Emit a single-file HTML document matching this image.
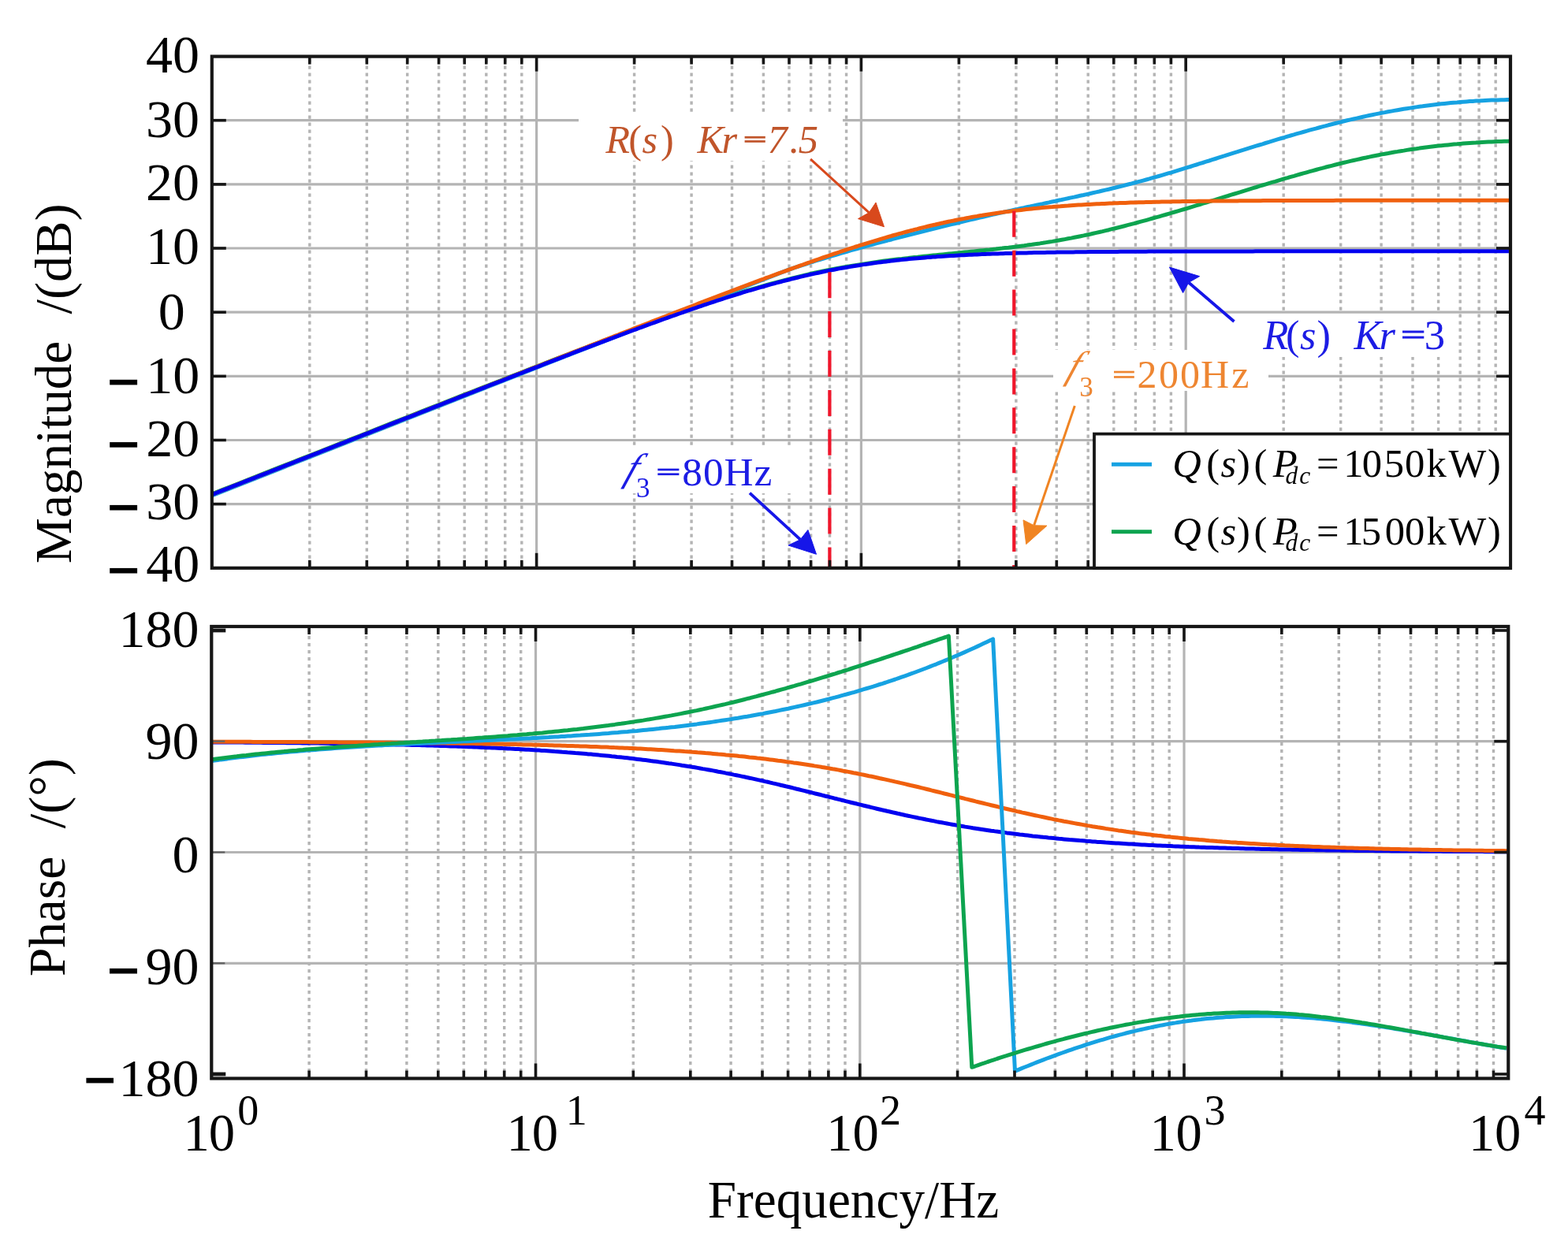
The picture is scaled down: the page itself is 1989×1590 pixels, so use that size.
<!DOCTYPE html><html><head><meta charset="utf-8"><title>Bode plot</title><style>html,body{margin:0;padding:0;background:#fff;overflow:hidden}svg{display:block}</style></head><body><svg width="1989" height="1590" viewBox="0 0 1989 1590">
<defs><filter id="bl" x="0" y="0" width="1" height="1"><feGaussianBlur stdDeviation="0.55"/></filter></defs>
<rect width="1989" height="1590" fill="#fff"/>
<g filter="url(#bl)">
<g stroke="#b4b4b4" stroke-width="3.4" stroke-dasharray="4.2 4.8"><line x1="392.8" y1="74.6" x2="392.8" y2="717.8"/><line x1="465.3" y1="74.6" x2="465.3" y2="717.8"/><line x1="516.7" y1="74.6" x2="516.7" y2="717.8"/><line x1="556.6" y1="74.6" x2="556.6" y2="717.8"/><line x1="589.2" y1="74.6" x2="589.2" y2="717.8"/><line x1="616.8" y1="74.6" x2="616.8" y2="717.8"/><line x1="640.7" y1="74.6" x2="640.7" y2="717.8"/><line x1="661.8" y1="74.6" x2="661.8" y2="717.8"/><line x1="804.6" y1="74.6" x2="804.6" y2="717.8"/><line x1="877.1" y1="74.6" x2="877.1" y2="717.8"/><line x1="928.5" y1="74.6" x2="928.5" y2="717.8"/><line x1="968.4" y1="74.6" x2="968.4" y2="717.8"/><line x1="1001.0" y1="74.6" x2="1001.0" y2="717.8"/><line x1="1028.6" y1="74.6" x2="1028.6" y2="717.8"/><line x1="1052.5" y1="74.6" x2="1052.5" y2="717.8"/><line x1="1073.6" y1="74.6" x2="1073.6" y2="717.8"/><line x1="1216.4" y1="74.6" x2="1216.4" y2="717.8"/><line x1="1288.9" y1="74.6" x2="1288.9" y2="717.8"/><line x1="1340.3" y1="74.6" x2="1340.3" y2="717.8"/><line x1="1380.2" y1="74.6" x2="1380.2" y2="717.8"/><line x1="1412.8" y1="74.6" x2="1412.8" y2="717.8"/><line x1="1440.4" y1="74.6" x2="1440.4" y2="717.8"/><line x1="1464.3" y1="74.6" x2="1464.3" y2="717.8"/><line x1="1485.4" y1="74.6" x2="1485.4" y2="717.8"/><line x1="1628.2" y1="74.6" x2="1628.2" y2="717.8"/><line x1="1700.7" y1="74.6" x2="1700.7" y2="717.8"/><line x1="1752.1" y1="74.6" x2="1752.1" y2="717.8"/><line x1="1792.0" y1="74.6" x2="1792.0" y2="717.8"/><line x1="1824.6" y1="74.6" x2="1824.6" y2="717.8"/><line x1="1852.2" y1="74.6" x2="1852.2" y2="717.8"/><line x1="1876.1" y1="74.6" x2="1876.1" y2="717.8"/><line x1="1897.2" y1="74.6" x2="1897.2" y2="717.8"/></g><g stroke="#b4b4b4" stroke-width="3.2"><line x1="680.6" y1="71.6" x2="680.6" y2="720.8"/><line x1="1092.4" y1="71.6" x2="1092.4" y2="720.8"/><line x1="1504.2" y1="71.6" x2="1504.2" y2="720.8"/><line x1="268.8" y1="152.7" x2="1916.0" y2="152.7"/><line x1="268.8" y1="233.9" x2="1916.0" y2="233.9"/><line x1="268.8" y1="315.0" x2="1916.0" y2="315.0"/><line x1="268.8" y1="396.2" x2="1916.0" y2="396.2"/><line x1="268.8" y1="477.4" x2="1916.0" y2="477.4"/><line x1="268.8" y1="558.5" x2="1916.0" y2="558.5"/><line x1="268.8" y1="639.6" x2="1916.0" y2="639.6"/></g>
<g stroke="#b4b4b4" stroke-width="3.4" stroke-dasharray="4.2 4.8"><line x1="392.1" y1="798.0" x2="392.1" y2="1365.5"/><line x1="464.5" y1="798.0" x2="464.5" y2="1365.5"/><line x1="515.9" y1="798.0" x2="515.9" y2="1365.5"/><line x1="555.8" y1="798.0" x2="555.8" y2="1365.5"/><line x1="588.3" y1="798.0" x2="588.3" y2="1365.5"/><line x1="615.8" y1="798.0" x2="615.8" y2="1365.5"/><line x1="639.7" y1="798.0" x2="639.7" y2="1365.5"/><line x1="660.7" y1="798.0" x2="660.7" y2="1365.5"/><line x1="803.3" y1="798.0" x2="803.3" y2="1365.5"/><line x1="875.8" y1="798.0" x2="875.8" y2="1365.5"/><line x1="927.1" y1="798.0" x2="927.1" y2="1365.5"/><line x1="967.0" y1="798.0" x2="967.0" y2="1365.5"/><line x1="999.6" y1="798.0" x2="999.6" y2="1365.5"/><line x1="1027.1" y1="798.0" x2="1027.1" y2="1365.5"/><line x1="1050.9" y1="798.0" x2="1050.9" y2="1365.5"/><line x1="1072.0" y1="798.0" x2="1072.0" y2="1365.5"/><line x1="1214.6" y1="798.0" x2="1214.6" y2="1365.5"/><line x1="1287.0" y1="798.0" x2="1287.0" y2="1365.5"/><line x1="1338.4" y1="798.0" x2="1338.4" y2="1365.5"/><line x1="1378.3" y1="798.0" x2="1378.3" y2="1365.5"/><line x1="1410.8" y1="798.0" x2="1410.8" y2="1365.5"/><line x1="1438.3" y1="798.0" x2="1438.3" y2="1365.5"/><line x1="1462.2" y1="798.0" x2="1462.2" y2="1365.5"/><line x1="1483.2" y1="798.0" x2="1483.2" y2="1365.5"/><line x1="1625.8" y1="798.0" x2="1625.8" y2="1365.5"/><line x1="1698.3" y1="798.0" x2="1698.3" y2="1365.5"/><line x1="1749.6" y1="798.0" x2="1749.6" y2="1365.5"/><line x1="1789.5" y1="798.0" x2="1789.5" y2="1365.5"/><line x1="1822.1" y1="798.0" x2="1822.1" y2="1365.5"/><line x1="1849.6" y1="798.0" x2="1849.6" y2="1365.5"/><line x1="1873.4" y1="798.0" x2="1873.4" y2="1365.5"/><line x1="1894.5" y1="798.0" x2="1894.5" y2="1365.5"/></g><g stroke="#b4b4b4" stroke-width="3.2"><line x1="679.5" y1="795.0" x2="679.5" y2="1368.5"/><line x1="1090.8" y1="795.0" x2="1090.8" y2="1368.5"/><line x1="1502.0" y1="795.0" x2="1502.0" y2="1368.5"/><line x1="268.3" y1="940.7" x2="1913.3" y2="940.7"/><line x1="268.3" y1="1081.5" x2="1913.3" y2="1081.5"/><line x1="268.3" y1="1222.3" x2="1913.3" y2="1222.3"/></g>
<rect x="734.0" y="143.0" width="335.0" height="61.0" fill="#fff"/>
<rect x="1336.0" y="444.0" width="273.0" height="52.0" fill="#fff"/>
<rect x="1592.0" y="398.0" width="250.0" height="55.0" fill="#fff"/>
<rect x="776.0" y="567.0" width="236.0" height="59.0" fill="#fff"/>
<defs><clipPath id="cT"><rect x="268.8" y="71.6" width="1647.2" height="649.2"/></clipPath><clipPath id="cB"><rect x="268.3" y="795.0" width="1645.0" height="573.5"/></clipPath></defs>
<g clip-path="url(#cT)">
<path d="M268.8,626.8 L283.2,621.2 L297.7,615.5 L312.1,609.8 L326.5,604.1 L340.9,598.4 L355.4,592.7 L369.8,587.0 L384.2,581.4 L398.6,575.7 L413.1,570.0 L427.5,564.3 L441.9,558.6 L456.4,553.0 L470.8,547.3 L485.2,541.6 L499.6,535.9 L514.1,530.3 L528.5,524.6 L542.9,518.9 L557.3,513.3 L571.8,507.6 L586.2,501.9 L600.6,496.3 L615.1,490.6 L629.5,485.0 L643.9,479.4 L658.3,473.7 L672.8,468.1 L687.2,462.5 L701.6,456.9 L716.0,451.4 L730.5,445.8 L744.9,440.3 L759.3,434.8 L773.7,429.3 L788.2,423.9 L802.6,418.5 L817.0,413.2 L831.5,407.9 L845.9,402.7 L860.3,397.6 L874.7,392.5 L889.2,387.6 L903.6,382.8 L918.0,378.0 L932.4,373.5 L946.9,369.0 L961.3,364.8 L975.7,360.7 L990.2,356.8 L1004.6,353.1 L1019.0,349.6 L1033.4,346.3 L1047.9,343.3 L1062.3,340.5 L1076.7,337.9 L1091.1,335.6 L1105.6,333.5 L1120.0,331.3 L1124.0,330.8 L1128.0,330.3 L1131.9,329.8 L1135.9,329.3 L1139.9,328.8 L1143.9,328.4 L1147.9,327.9 L1151.8,327.5 L1155.8,327.0 L1159.8,326.6 L1163.8,326.2 L1167.8,325.7 L1171.7,325.3 L1175.7,324.9 L1179.7,324.5 L1183.7,324.1 L1187.7,323.7 L1191.6,323.3 L1195.6,322.9 L1199.6,322.5 L1203.6,322.1 L1207.6,321.7 L1211.5,321.3 L1215.5,320.9 L1219.5,320.5 L1223.5,320.1 L1227.5,319.7 L1231.4,319.3 L1235.4,318.9 L1239.4,318.5 L1243.4,318.1 L1247.4,317.7 L1251.3,317.3 L1255.3,316.9 L1259.3,316.4 L1263.3,316.0 L1267.3,315.5 L1271.2,315.1 L1275.2,314.6 L1279.2,314.2 L1283.2,313.7 L1287.2,313.2 L1291.1,312.7 L1295.1,312.2 L1299.1,311.7 L1303.1,311.1 L1307.1,310.6 L1311.0,310.0 L1315.0,309.4 L1319.0,308.9 L1323.0,308.3 L1327.0,307.6 L1330.9,307.0 L1334.9,306.4 L1338.9,305.7 L1342.9,305.0 L1346.9,304.3 L1350.8,303.6 L1354.8,302.8 L1358.8,302.1 L1362.8,301.3 L1366.8,300.5 L1370.7,299.7 L1374.7,298.9 L1378.7,298.0 L1382.7,297.2 L1386.7,296.3 L1390.6,295.4 L1394.6,294.5 L1398.6,293.6 L1402.6,292.6 L1406.6,291.7 L1410.5,290.7 L1414.5,289.7 L1418.5,288.7 L1422.5,287.7 L1426.5,286.7 L1430.4,285.7 L1434.4,284.6 L1438.4,283.6 L1442.4,282.5 L1446.4,281.4 L1450.3,280.4 L1454.3,279.3 L1458.3,278.2 L1462.3,277.0 L1466.3,275.9 L1470.2,274.8 L1474.2,273.6 L1478.2,272.5 L1482.2,271.3 L1486.2,270.2 L1490.1,269.0 L1494.1,267.8 L1498.1,266.6 L1502.1,265.5 L1506.1,264.3 L1510.0,263.1 L1514.0,261.9 L1518.0,260.7 L1522.0,259.5 L1526.0,258.2 L1529.9,257.0 L1533.9,255.8 L1537.9,254.6 L1541.9,253.4 L1545.9,252.1 L1549.8,250.9 L1553.8,249.7 L1557.8,248.5 L1561.8,247.2 L1565.8,246.0 L1569.7,244.8 L1573.7,243.6 L1577.7,242.3 L1581.7,241.1 L1585.7,239.9 L1589.6,238.7 L1593.6,237.5 L1597.6,236.2 L1601.6,235.0 L1605.6,233.8 L1609.5,232.6 L1613.5,231.4 L1617.5,230.3 L1621.5,229.1 L1625.5,227.9 L1629.4,226.7 L1633.4,225.6 L1637.4,224.4 L1641.4,223.3 L1645.4,222.1 L1649.3,221.0 L1653.3,219.9 L1657.3,218.8 L1661.3,217.7 L1665.3,216.6 L1669.2,215.5 L1673.2,214.4 L1677.2,213.4 L1681.2,212.3 L1685.2,211.3 L1689.1,210.3 L1693.1,209.3 L1697.1,208.3 L1701.1,207.3 L1705.1,206.3 L1709.0,205.4 L1713.0,204.4 L1717.0,203.5 L1721.0,202.6 L1725.0,201.7 L1728.9,200.8 L1732.9,200.0 L1736.9,199.1 L1740.9,198.3 L1744.9,197.5 L1748.8,196.7 L1752.8,195.9 L1756.8,195.2 L1760.8,194.5 L1764.8,193.7 L1768.7,193.0 L1772.7,192.4 L1776.7,191.7 L1780.7,191.1 L1784.7,190.4 L1788.6,189.8 L1792.6,189.2 L1796.6,188.7 L1800.6,188.1 L1804.6,187.6 L1808.5,187.1 L1812.5,186.6 L1816.5,186.1 L1820.5,185.6 L1824.5,185.1 L1828.4,184.7 L1832.4,184.3 L1836.4,183.9 L1840.4,183.5 L1844.4,183.1 L1848.3,182.8 L1852.3,182.4 L1856.3,182.1 L1860.3,181.8 L1864.3,181.5 L1868.2,181.2 L1872.2,181.0 L1876.2,180.7 L1880.2,180.5 L1884.2,180.3 L1888.1,180.1 L1892.1,179.9 L1896.1,179.7 L1900.1,179.6 L1904.1,179.5 L1908.0,179.3 L1912.0,179.2 L1916.0,179.1" fill="none" stroke="#0ca450" stroke-width="5.0" stroke-linejoin="round"/>
<path d="M268.8,628.8 L299.2,616.8 L329.7,604.8 L360.1,592.8 L390.5,580.9 L421.0,568.9 L451.4,556.9 L481.9,544.9 L512.3,532.9 L542.7,520.9 L573.2,508.9 L603.6,496.9 L634.0,484.9 L664.5,473.0 L694.9,461.0 L725.4,449.0 L755.8,437.1 L786.2,425.2 L816.7,413.3 L847.1,401.5 L877.5,389.7 L908.0,378.0 L938.4,366.5 L1000.0,342.4 L1004.0,341.1 L1008.0,339.7 L1011.9,338.4 L1015.9,337.1 L1019.9,335.8 L1023.9,334.5 L1027.9,333.2 L1031.9,332.0 L1035.8,330.7 L1039.8,329.5 L1043.8,328.3 L1047.8,327.0 L1051.8,325.8 L1055.8,324.7 L1059.7,323.5 L1063.7,322.3 L1067.7,321.1 L1071.7,320.0 L1075.7,318.8 L1079.7,317.7 L1083.6,316.6 L1087.6,315.5 L1091.6,314.4 L1095.6,313.3 L1099.6,312.2 L1103.5,311.1 L1107.5,310.0 L1111.5,308.9 L1115.5,307.9 L1119.5,306.8 L1123.5,305.8 L1127.4,304.7 L1131.4,303.7 L1135.4,302.6 L1139.4,301.6 L1143.4,300.6 L1147.4,299.6 L1151.3,298.5 L1155.3,297.5 L1159.3,296.5 L1163.3,295.5 L1167.3,294.5 L1171.3,293.5 L1175.2,292.5 L1179.2,291.5 L1183.2,290.5 L1187.2,289.5 L1191.2,288.5 L1195.1,287.6 L1199.1,286.6 L1203.1,285.6 L1207.1,284.6 L1211.1,283.7 L1215.1,282.7 L1219.0,281.8 L1223.0,280.8 L1227.0,279.9 L1231.0,278.9 L1235.0,278.0 L1239.0,277.0 L1242.9,276.1 L1246.9,275.2 L1250.9,274.3 L1254.9,273.4 L1258.9,272.4 L1262.9,271.5 L1266.8,270.6 L1270.8,269.8 L1274.8,268.9 L1278.8,268.0 L1282.8,267.1 L1286.7,266.2 L1290.7,265.4 L1294.7,264.5 L1298.7,263.7 L1302.7,262.8 L1306.7,262.0 L1310.6,261.1 L1314.6,260.3 L1318.6,259.4 L1322.6,258.6 L1326.6,257.7 L1330.6,256.9 L1334.5,256.0 L1338.5,255.2 L1342.5,254.3 L1346.5,253.5 L1350.5,252.6 L1354.5,251.8 L1358.4,250.9 L1362.4,250.1 L1366.4,249.2 L1370.4,248.3 L1374.4,247.5 L1378.3,246.6 L1382.3,245.7 L1386.3,244.8 L1390.3,243.9 L1394.3,243.0 L1398.3,242.0 L1402.2,241.1 L1406.2,240.2 L1410.2,239.2 L1414.2,238.3 L1418.2,237.3 L1422.2,236.3 L1426.1,235.3 L1430.1,234.3 L1434.1,233.3 L1438.1,232.2 L1442.1,231.2 L1446.1,230.1 L1450.0,229.1 L1454.0,228.0 L1458.0,226.9 L1462.0,225.7 L1466.0,224.6 L1469.9,223.5 L1473.9,222.3 L1477.9,221.1 L1481.9,219.9 L1485.9,218.8 L1489.9,217.6 L1493.8,216.4 L1497.8,215.1 L1501.8,213.9 L1505.8,212.7 L1509.8,211.5 L1513.8,210.2 L1517.7,209.0 L1521.7,207.7 L1525.7,206.5 L1529.7,205.2 L1533.7,204.0 L1537.7,202.7 L1541.6,201.5 L1545.6,200.2 L1549.6,198.9 L1553.6,197.7 L1557.6,196.4 L1561.5,195.2 L1565.5,193.9 L1569.5,192.7 L1573.5,191.4 L1577.5,190.2 L1581.5,188.9 L1585.4,187.7 L1589.4,186.4 L1593.4,185.2 L1597.4,184.0 L1601.4,182.8 L1605.4,181.5 L1609.3,180.3 L1613.3,179.1 L1617.3,177.9 L1621.3,176.7 L1625.3,175.5 L1629.3,174.4 L1633.2,173.2 L1637.2,172.0 L1641.2,170.9 L1645.2,169.7 L1649.2,168.6 L1653.1,167.5 L1657.1,166.3 L1661.1,165.2 L1665.1,164.1 L1669.1,163.1 L1673.1,162.0 L1677.0,160.9 L1681.0,159.9 L1685.0,158.8 L1689.0,157.8 L1693.0,156.8 L1697.0,155.8 L1700.9,154.8 L1704.9,153.8 L1708.9,152.8 L1712.9,151.9 L1716.9,151.0 L1720.9,150.1 L1724.8,149.2 L1728.8,148.3 L1732.8,147.4 L1736.8,146.5 L1740.8,145.7 L1744.7,144.9 L1748.7,144.1 L1752.7,143.3 L1756.7,142.6 L1760.7,141.8 L1764.7,141.1 L1768.6,140.4 L1772.6,139.7 L1776.6,139.0 L1780.6,138.3 L1784.6,137.7 L1788.6,137.1 L1792.5,136.5 L1796.5,135.9 L1800.5,135.3 L1804.5,134.8 L1808.5,134.2 L1812.5,133.7 L1816.4,133.2 L1820.4,132.7 L1824.4,132.3 L1828.4,131.8 L1832.4,131.4 L1836.3,131.0 L1840.3,130.6 L1844.3,130.2 L1848.3,129.9 L1852.3,129.5 L1856.3,129.2 L1860.2,128.9 L1864.2,128.6 L1868.2,128.4 L1872.2,128.1 L1876.2,127.9 L1880.2,127.7 L1884.1,127.5 L1888.1,127.3 L1892.1,127.1 L1896.1,127.0 L1900.1,126.9 L1904.1,126.7 L1908.0,126.7 L1912.0,126.6 L1916.0,126.5" fill="none" stroke="#18a2e2" stroke-width="5.0" stroke-linejoin="round"/>
<path d="M268.8,627.6 L272.1,626.3 L275.4,625.0 L278.7,623.7 L282.0,622.4 L285.3,621.1 L288.6,619.8 L291.9,618.5 L295.2,617.2 L298.5,615.9 L301.8,614.6 L305.1,613.3 L308.4,612.0 L311.7,610.7 L315.0,609.4 L318.3,608.1 L321.6,606.8 L324.9,605.5 L328.2,604.2 L331.5,602.9 L334.8,601.6 L338.1,600.3 L341.4,599.0 L344.7,597.7 L348.0,596.4 L351.3,595.1 L354.6,593.8 L357.9,592.5 L361.2,591.2 L364.5,589.9 L367.8,588.6 L371.1,587.3 L374.4,586.0 L377.7,584.7 L381.0,583.4 L384.3,582.1 L387.6,580.8 L390.9,579.5 L394.2,578.2 L397.5,576.9 L400.8,575.6 L404.1,574.3 L407.4,573.0 L410.7,571.7 L414.0,570.4 L417.3,569.1 L420.6,567.8 L423.9,566.5 L427.2,565.2 L430.5,563.9 L433.9,562.6 L437.2,561.3 L440.5,560.0 L443.8,558.7 L447.1,557.4 L450.4,556.1 L453.7,554.8 L457.0,553.5 L460.3,552.2 L463.6,550.9 L466.9,549.6 L470.2,548.3 L473.5,547.0 L476.8,545.7 L480.1,544.4 L483.4,543.1 L486.7,541.8 L490.0,540.5 L493.3,539.2 L496.6,537.9 L499.9,536.6 L503.2,535.3 L506.5,534.0 L509.8,532.7 L513.1,531.4 L516.4,530.1 L519.7,528.8 L523.0,527.5 L526.3,526.2 L529.6,524.9 L532.9,523.6 L536.2,522.3 L539.5,521.0 L542.8,519.7 L546.1,518.4 L549.4,517.1 L552.7,515.8 L556.0,514.5 L559.3,513.2 L562.6,511.9 L565.9,510.6 L569.2,509.3 L572.5,508.0 L575.8,506.7 L579.1,505.4 L582.4,504.1 L585.7,502.8 L589.0,501.5 L592.3,500.2 L595.6,498.9 L598.9,497.6 L602.2,496.3 L605.5,495.0 L608.8,493.7 L612.1,492.4 L615.4,491.1 L618.7,489.8 L622.0,488.5 L625.3,487.2 L628.6,485.9 L631.9,484.6 L635.2,483.3 L638.5,482.0 L641.8,480.7 L645.1,479.4 L648.4,478.1 L651.7,476.8 L655.0,475.5 L658.3,474.2 L661.6,472.9 L664.9,471.6 L668.2,470.3 L671.5,469.0 L674.8,467.7 L678.1,466.4 L681.4,465.1 L684.7,463.8 L688.0,462.5 L691.3,461.2 L694.6,459.9 L697.9,458.6 L701.2,457.3 L704.5,456.0 L707.8,454.7 L711.1,453.4 L714.4,452.1 L717.7,450.8 L721.0,449.5 L724.3,448.2 L727.6,446.9 L730.9,445.6 L734.2,444.4 L737.5,443.1 L740.8,441.8 L744.1,440.5 L747.4,439.2 L750.7,437.9 L754.0,436.6 L757.3,435.3 L760.6,434.0 L764.0,432.7 L767.3,431.4 L770.6,430.1 L773.9,428.8 L777.2,427.5 L780.5,426.2 L783.8,425.0 L787.1,423.7 L790.4,422.4 L793.7,421.1 L797.0,419.8 L800.3,418.5 L803.6,417.2 L806.9,415.9 L810.2,414.6 L813.5,413.4 L816.8,412.1 L820.1,410.8 L823.4,409.5 L826.7,408.2 L830.0,406.9 L833.3,405.6 L836.6,404.4 L839.9,403.1 L843.2,401.8 L846.5,400.5 L849.8,399.2 L853.1,398.0 L856.4,396.7 L859.7,395.4 L863.0,394.1 L866.3,392.8 L869.6,391.6 L872.9,390.3 L876.2,389.0 L879.5,387.8 L882.8,386.5 L886.1,385.2 L889.4,383.9 L892.7,382.7 L896.0,381.4 L899.3,380.1 L902.6,378.9 L905.9,377.6 L909.2,376.4 L912.5,375.1 L915.8,373.8 L919.1,372.6 L922.4,371.3 L925.7,370.1 L929.0,368.8 L932.3,367.6 L935.6,366.3 L938.9,365.1 L942.2,363.8 L945.5,362.6 L948.8,361.4 L952.1,360.1 L955.4,358.9 L958.7,357.6 L962.0,356.4 L965.3,355.2 L968.6,354.0 L971.9,352.7 L975.2,351.5 L978.5,350.3 L981.8,349.1 L985.1,347.9 L988.4,346.7 L991.7,345.5 L995.0,344.3 L998.3,343.1 L1001.6,341.9 L1004.9,340.7 L1008.2,339.5 L1011.5,338.3 L1014.8,337.1 L1018.1,336.0 L1021.4,334.8 L1024.7,333.6 L1028.0,332.5 L1031.3,331.3 L1034.6,330.1 L1037.9,329.0 L1041.2,327.9 L1044.5,326.7 L1047.8,325.6 L1051.1,324.5 L1054.4,323.3 L1057.7,322.2 L1061.0,321.1 L1064.3,320.0 L1067.6,318.9 L1070.9,317.8 L1074.2,316.7 L1077.5,315.7 L1080.8,314.6 L1084.1,313.5 L1087.4,312.5 L1090.7,311.4 L1094.1,310.4 L1097.4,309.3 L1100.7,308.3 L1104.0,307.3 L1107.3,306.3 L1110.6,305.3 L1113.9,304.3 L1117.2,303.3 L1120.5,302.3 L1123.8,301.4 L1127.1,300.4 L1130.4,299.5 L1133.7,298.5 L1137.0,297.6 L1140.3,296.7 L1143.6,295.8 L1146.9,294.9 L1150.2,294.0 L1153.5,293.1 L1156.8,292.3 L1160.1,291.4 L1163.4,290.6 L1166.7,289.7 L1170.0,288.9 L1173.3,288.1 L1176.6,287.3 L1179.9,286.5 L1183.2,285.7 L1186.5,285.0 L1189.8,284.2 L1193.1,283.5 L1196.4,282.8 L1199.7,282.0 L1203.0,281.3 L1206.3,280.6 L1209.6,280.0 L1212.9,279.3 L1216.2,278.6 L1219.5,278.0 L1222.8,277.4 L1226.1,276.7 L1229.4,276.1 L1232.7,275.5 L1236.0,274.9 L1239.3,274.4 L1242.6,273.8 L1245.9,273.3 L1249.2,272.7 L1252.5,272.2 L1255.8,271.7 L1259.1,271.2 L1262.4,270.7 L1265.7,270.2 L1269.0,269.7 L1272.3,269.3 L1275.6,268.8 L1278.9,268.4 L1282.2,268.0 L1285.5,267.6 L1288.8,267.1 L1292.1,266.8 L1295.4,266.4 L1298.7,266.0 L1302.0,265.6 L1305.3,265.3 L1308.6,264.9 L1311.9,264.6 L1315.2,264.3 L1318.5,263.9 L1321.8,263.6 L1325.1,263.3 L1328.4,263.0 L1331.7,262.7 L1335.0,262.5 L1338.3,262.2 L1341.6,261.9 L1344.9,261.7 L1348.2,261.4 L1351.5,261.2 L1354.8,261.0 L1358.1,260.7 L1361.4,260.5 L1364.7,260.3 L1368.0,260.1 L1371.3,259.9 L1374.6,259.7 L1377.9,259.5 L1381.2,259.4 L1384.5,259.2 L1387.8,259.0 L1391.1,258.8 L1394.4,258.7 L1397.7,258.5 L1401.0,258.4 L1404.3,258.2 L1407.6,258.1 L1410.9,258.0 L1414.2,257.8 L1417.5,257.7 L1420.8,257.6 L1424.2,257.5 L1427.5,257.4 L1430.8,257.2 L1434.1,257.1 L1437.4,257.0 L1440.7,256.9 L1444.0,256.8 L1447.3,256.7 L1450.6,256.7 L1453.9,256.6 L1457.2,256.5 L1460.5,256.4 L1463.8,256.3 L1467.1,256.3 L1470.4,256.2 L1473.7,256.1 L1477.0,256.0 L1480.3,256.0 L1483.6,255.9 L1486.9,255.8 L1490.2,255.8 L1493.5,255.7 L1496.8,255.7 L1500.1,255.6 L1503.4,255.6 L1506.7,255.5 L1510.0,255.5 L1513.3,255.4 L1516.6,255.4 L1519.9,255.3 L1523.2,255.3 L1526.5,255.3 L1529.8,255.2 L1533.1,255.2 L1536.4,255.1 L1539.7,255.1 L1543.0,255.1 L1546.3,255.0 L1549.6,255.0 L1552.9,255.0 L1556.2,255.0 L1559.5,254.9 L1562.8,254.9 L1566.1,254.9 L1569.4,254.9 L1572.7,254.8 L1576.0,254.8 L1579.3,254.8 L1582.6,254.8 L1585.9,254.7 L1589.2,254.7 L1592.5,254.7 L1595.8,254.7 L1599.1,254.7 L1602.4,254.6 L1605.7,254.6 L1609.0,254.6 L1612.3,254.6 L1615.6,254.6 L1618.9,254.6 L1622.2,254.6 L1625.5,254.5 L1628.8,254.5 L1632.1,254.5 L1635.4,254.5 L1638.7,254.5 L1642.0,254.5 L1645.3,254.5 L1648.6,254.5 L1651.9,254.4 L1655.2,254.4 L1658.5,254.4 L1661.8,254.4 L1665.1,254.4 L1668.4,254.4 L1671.7,254.4 L1675.0,254.4 L1678.3,254.4 L1681.6,254.4 L1684.9,254.4 L1688.2,254.4 L1691.5,254.4 L1694.8,254.3 L1698.1,254.3 L1701.4,254.3 L1704.7,254.3 L1708.0,254.3 L1711.3,254.3 L1714.6,254.3 L1717.9,254.3 L1721.2,254.3 L1724.5,254.3 L1727.8,254.3 L1731.1,254.3 L1734.4,254.3 L1737.7,254.3 L1741.0,254.3 L1744.3,254.3 L1747.6,254.3 L1750.9,254.3 L1754.3,254.3 L1757.6,254.3 L1760.9,254.3 L1764.2,254.3 L1767.5,254.3 L1770.8,254.2 L1774.1,254.2 L1777.4,254.2 L1780.7,254.2 L1784.0,254.2 L1787.3,254.2 L1790.6,254.2 L1793.9,254.2 L1797.2,254.2 L1800.5,254.2 L1803.8,254.2 L1807.1,254.2 L1810.4,254.2 L1813.7,254.2 L1817.0,254.2 L1820.3,254.2 L1823.6,254.2 L1826.9,254.2 L1830.2,254.2 L1833.5,254.2 L1836.8,254.2 L1840.1,254.2 L1843.4,254.2 L1846.7,254.2 L1850.0,254.2 L1853.3,254.2 L1856.6,254.2 L1859.9,254.2 L1863.2,254.2 L1866.5,254.2 L1869.8,254.2 L1873.1,254.2 L1876.4,254.2 L1879.7,254.2 L1883.0,254.2 L1886.3,254.2 L1889.6,254.2 L1892.9,254.2 L1896.2,254.2 L1899.5,254.2 L1902.8,254.2 L1906.1,254.2 L1909.4,254.2 L1912.7,254.2 L1916.0,254.2" fill="none" stroke="#f0600e" stroke-width="5.0" stroke-linejoin="round"/>
<path d="M268.8,627.6 L272.1,626.3 L275.4,625.0 L278.7,623.7 L282.0,622.4 L285.3,621.1 L288.6,619.8 L291.9,618.5 L295.2,617.2 L298.5,615.9 L301.8,614.6 L305.1,613.3 L308.4,612.0 L311.7,610.7 L315.0,609.4 L318.3,608.1 L321.6,606.8 L324.9,605.5 L328.2,604.2 L331.5,602.9 L334.8,601.6 L338.1,600.3 L341.4,599.0 L344.7,597.7 L348.0,596.4 L351.3,595.1 L354.6,593.8 L357.9,592.5 L361.2,591.2 L364.5,589.9 L367.8,588.6 L371.1,587.3 L374.4,586.0 L377.7,584.7 L381.0,583.4 L384.3,582.1 L387.6,580.8 L390.9,579.5 L394.2,578.2 L397.5,576.9 L400.8,575.6 L404.1,574.3 L407.4,573.0 L410.7,571.7 L414.0,570.4 L417.3,569.1 L420.6,567.8 L423.9,566.5 L427.2,565.2 L430.5,563.9 L433.9,562.6 L437.2,561.3 L440.5,560.0 L443.8,558.7 L447.1,557.4 L450.4,556.1 L453.7,554.8 L457.0,553.5 L460.3,552.2 L463.6,550.9 L466.9,549.6 L470.2,548.3 L473.5,547.0 L476.8,545.7 L480.1,544.4 L483.4,543.1 L486.7,541.8 L490.0,540.5 L493.3,539.2 L496.6,537.9 L499.9,536.6 L503.2,535.3 L506.5,534.0 L509.8,532.7 L513.1,531.4 L516.4,530.1 L519.7,528.8 L523.0,527.6 L526.3,526.3 L529.6,525.0 L532.9,523.7 L536.2,522.4 L539.5,521.1 L542.8,519.8 L546.1,518.5 L549.4,517.2 L552.7,515.9 L556.0,514.6 L559.3,513.3 L562.6,512.0 L565.9,510.7 L569.2,509.4 L572.5,508.1 L575.8,506.8 L579.1,505.5 L582.4,504.2 L585.7,502.9 L589.0,501.6 L592.3,500.3 L595.6,499.0 L598.9,497.8 L602.2,496.5 L605.5,495.2 L608.8,493.9 L612.1,492.6 L615.4,491.3 L618.7,490.0 L622.0,488.7 L625.3,487.4 L628.6,486.1 L631.9,484.8 L635.2,483.6 L638.5,482.3 L641.8,481.0 L645.1,479.7 L648.4,478.4 L651.7,477.1 L655.0,475.8 L658.3,474.5 L661.6,473.3 L664.9,472.0 L668.2,470.7 L671.5,469.4 L674.8,468.1 L678.1,466.8 L681.4,465.6 L684.7,464.3 L688.0,463.0 L691.3,461.7 L694.6,460.4 L697.9,459.2 L701.2,457.9 L704.5,456.6 L707.8,455.3 L711.1,454.1 L714.4,452.8 L717.7,451.5 L721.0,450.3 L724.3,449.0 L727.6,447.7 L730.9,446.4 L734.2,445.2 L737.5,443.9 L740.8,442.7 L744.1,441.4 L747.4,440.1 L750.7,438.9 L754.0,437.6 L757.3,436.4 L760.6,435.1 L764.0,433.9 L767.3,432.6 L770.6,431.4 L773.9,430.1 L777.2,428.9 L780.5,427.6 L783.8,426.4 L787.1,425.1 L790.4,423.9 L793.7,422.7 L797.0,421.4 L800.3,420.2 L803.6,419.0 L806.9,417.8 L810.2,416.5 L813.5,415.3 L816.8,414.1 L820.1,412.9 L823.4,411.7 L826.7,410.5 L830.0,409.3 L833.3,408.1 L836.6,406.9 L839.9,405.7 L843.2,404.5 L846.5,403.3 L849.8,402.1 L853.1,401.0 L856.4,399.8 L859.7,398.6 L863.0,397.5 L866.3,396.3 L869.6,395.1 L872.9,394.0 L876.2,392.8 L879.5,391.7 L882.8,390.6 L886.1,389.4 L889.4,388.3 L892.7,387.2 L896.0,386.1 L899.3,385.0 L902.6,383.9 L905.9,382.8 L909.2,381.7 L912.5,380.6 L915.8,379.6 L919.1,378.5 L922.4,377.4 L925.7,376.4 L929.0,375.3 L932.3,374.3 L935.6,373.3 L938.9,372.3 L942.2,371.2 L945.5,370.2 L948.8,369.2 L952.1,368.3 L955.4,367.3 L958.7,366.3 L962.0,365.4 L965.3,364.4 L968.6,363.5 L971.9,362.5 L975.2,361.6 L978.5,360.7 L981.8,359.8 L985.1,358.9 L988.4,358.0 L991.7,357.2 L995.0,356.3 L998.3,355.5 L1001.6,354.6 L1004.9,353.8 L1008.2,353.0 L1011.5,352.2 L1014.8,351.4 L1018.1,350.6 L1021.4,349.8 L1024.7,349.1 L1028.0,348.3 L1031.3,347.6 L1034.6,346.9 L1037.9,346.2 L1041.2,345.5 L1044.5,344.8 L1047.8,344.1 L1051.1,343.5 L1054.4,342.8 L1057.7,342.2 L1061.0,341.5 L1064.3,340.9 L1067.6,340.3 L1070.9,339.7 L1074.2,339.2 L1077.5,338.6 L1080.8,338.0 L1084.1,337.5 L1087.4,337.0 L1090.7,336.5 L1094.1,335.9 L1097.4,335.4 L1100.7,335.0 L1104.0,334.5 L1107.3,334.0 L1110.6,333.6 L1113.9,333.1 L1117.2,332.7 L1120.5,332.3 L1123.8,331.9 L1127.1,331.5 L1130.4,331.1 L1133.7,330.7 L1137.0,330.3 L1140.3,330.0 L1143.6,329.6 L1146.9,329.3 L1150.2,329.0 L1153.5,328.6 L1156.8,328.3 L1160.1,328.0 L1163.4,327.7 L1166.7,327.4 L1170.0,327.2 L1173.3,326.9 L1176.6,326.6 L1179.9,326.4 L1183.2,326.1 L1186.5,325.9 L1189.8,325.6 L1193.1,325.4 L1196.4,325.2 L1199.7,325.0 L1203.0,324.8 L1206.3,324.6 L1209.6,324.4 L1212.9,324.2 L1216.2,324.0 L1219.5,323.8 L1222.8,323.7 L1226.1,323.5 L1229.4,323.3 L1232.7,323.2 L1236.0,323.0 L1239.3,322.9 L1242.6,322.7 L1245.9,322.6 L1249.2,322.5 L1252.5,322.3 L1255.8,322.2 L1259.1,322.1 L1262.4,322.0 L1265.7,321.9 L1269.0,321.8 L1272.3,321.7 L1275.6,321.6 L1278.9,321.5 L1282.2,321.4 L1285.5,321.3 L1288.8,321.2 L1292.1,321.1 L1295.4,321.0 L1298.7,320.9 L1302.0,320.9 L1305.3,320.8 L1308.6,320.7 L1311.9,320.6 L1315.2,320.6 L1318.5,320.5 L1321.8,320.5 L1325.1,320.4 L1328.4,320.3 L1331.7,320.3 L1335.0,320.2 L1338.3,320.2 L1341.6,320.1 L1344.9,320.1 L1348.2,320.0 L1351.5,320.0 L1354.8,319.9 L1358.1,319.9 L1361.4,319.9 L1364.7,319.8 L1368.0,319.8 L1371.3,319.7 L1374.6,319.7 L1377.9,319.7 L1381.2,319.6 L1384.5,319.6 L1387.8,319.6 L1391.1,319.6 L1394.4,319.5 L1397.7,319.5 L1401.0,319.5 L1404.3,319.4 L1407.6,319.4 L1410.9,319.4 L1414.2,319.4 L1417.5,319.4 L1420.8,319.3 L1424.2,319.3 L1427.5,319.3 L1430.8,319.3 L1434.1,319.3 L1437.4,319.2 L1440.7,319.2 L1444.0,319.2 L1447.3,319.2 L1450.6,319.2 L1453.9,319.2 L1457.2,319.1 L1460.5,319.1 L1463.8,319.1 L1467.1,319.1 L1470.4,319.1 L1473.7,319.1 L1477.0,319.1 L1480.3,319.1 L1483.6,319.0 L1486.9,319.0 L1490.2,319.0 L1493.5,319.0 L1496.8,319.0 L1500.1,319.0 L1503.4,319.0 L1506.7,319.0 L1510.0,319.0 L1513.3,319.0 L1516.6,319.0 L1519.9,319.0 L1523.2,318.9 L1526.5,318.9 L1529.8,318.9 L1533.1,318.9 L1536.4,318.9 L1539.7,318.9 L1543.0,318.9 L1546.3,318.9 L1549.6,318.9 L1552.9,318.9 L1556.2,318.9 L1559.5,318.9 L1562.8,318.9 L1566.1,318.9 L1569.4,318.9 L1572.7,318.9 L1576.0,318.9 L1579.3,318.9 L1582.6,318.9 L1585.9,318.9 L1589.2,318.9 L1592.5,318.8 L1595.8,318.8 L1599.1,318.8 L1602.4,318.8 L1605.7,318.8 L1609.0,318.8 L1612.3,318.8 L1615.6,318.8 L1618.9,318.8 L1622.2,318.8 L1625.5,318.8 L1628.8,318.8 L1632.1,318.8 L1635.4,318.8 L1638.7,318.8 L1642.0,318.8 L1645.3,318.8 L1648.6,318.8 L1651.9,318.8 L1655.2,318.8 L1658.5,318.8 L1661.8,318.8 L1665.1,318.8 L1668.4,318.8 L1671.7,318.8 L1675.0,318.8 L1678.3,318.8 L1681.6,318.8 L1684.9,318.8 L1688.2,318.8 L1691.5,318.8 L1694.8,318.8 L1698.1,318.8 L1701.4,318.8 L1704.7,318.8 L1708.0,318.8 L1711.3,318.8 L1714.6,318.8 L1717.9,318.8 L1721.2,318.8 L1724.5,318.8 L1727.8,318.8 L1731.1,318.8 L1734.4,318.8 L1737.7,318.8 L1741.0,318.8 L1744.3,318.8 L1747.6,318.8 L1750.9,318.8 L1754.3,318.8 L1757.6,318.8 L1760.9,318.8 L1764.2,318.8 L1767.5,318.8 L1770.8,318.8 L1774.1,318.8 L1777.4,318.8 L1780.7,318.8 L1784.0,318.8 L1787.3,318.8 L1790.6,318.8 L1793.9,318.8 L1797.2,318.8 L1800.5,318.8 L1803.8,318.8 L1807.1,318.8 L1810.4,318.8 L1813.7,318.8 L1817.0,318.8 L1820.3,318.8 L1823.6,318.8 L1826.9,318.8 L1830.2,318.8 L1833.5,318.8 L1836.8,318.8 L1840.1,318.8 L1843.4,318.8 L1846.7,318.8 L1850.0,318.8 L1853.3,318.8 L1856.6,318.8 L1859.9,318.8 L1863.2,318.8 L1866.5,318.8 L1869.8,318.8 L1873.1,318.8 L1876.4,318.8 L1879.7,318.8 L1883.0,318.8 L1886.3,318.8 L1889.6,318.8 L1892.9,318.8 L1896.2,318.8 L1899.5,318.8 L1902.8,318.8 L1906.1,318.8 L1909.4,318.8 L1912.7,318.8 L1916.0,318.8" fill="none" stroke="#0606f0" stroke-width="5.0" stroke-linejoin="round"/>
</g>
<g clip-path="url(#cB)">
<path d="M268.3,941.9 L271.6,941.9 L274.9,941.9 L278.2,941.9 L281.5,942.0 L284.8,942.0 L288.1,942.0 L291.4,942.0 L294.7,942.0 L298.0,942.1 L301.3,942.1 L304.6,942.1 L307.9,942.1 L311.2,942.2 L314.5,942.2 L317.7,942.2 L321.0,942.3 L324.3,942.3 L327.6,942.3 L330.9,942.3 L334.2,942.4 L337.5,942.4 L340.8,942.4 L344.1,942.5 L347.4,942.5 L350.7,942.5 L354.0,942.6 L357.3,942.6 L360.6,942.6 L363.9,942.7 L367.2,942.7 L370.5,942.7 L373.8,942.8 L377.1,942.8 L380.4,942.8 L383.7,942.9 L387.0,942.9 L390.3,943.0 L393.6,943.0 L396.9,943.0 L400.2,943.1 L403.5,943.1 L406.8,943.2 L410.1,943.2 L413.4,943.3 L416.6,943.3 L419.9,943.4 L423.2,943.4 L426.5,943.5 L429.8,943.5 L433.1,943.6 L436.4,943.6 L439.7,943.7 L443.0,943.7 L446.3,943.8 L449.6,943.8 L452.9,943.9 L456.2,944.0 L459.5,944.0 L462.8,944.1 L466.1,944.1 L469.4,944.2 L472.7,944.3 L476.0,944.3 L479.3,944.4 L482.6,944.5 L485.9,944.5 L489.2,944.6 L492.5,944.7 L495.8,944.7 L499.1,944.8 L502.4,944.9 L505.7,945.0 L509.0,945.1 L512.2,945.1 L515.5,945.2 L518.8,945.3 L522.1,945.4 L525.4,945.5 L528.7,945.6 L532.0,945.6 L535.3,945.7 L538.6,945.8 L541.9,945.9 L545.2,946.0 L548.5,946.1 L551.8,946.2 L555.1,946.3 L558.4,946.4 L561.7,946.5 L565.0,946.6 L568.3,946.7 L571.6,946.9 L574.9,947.0 L578.2,947.1 L581.5,947.2 L584.8,947.3 L588.1,947.4 L591.4,947.6 L594.7,947.7 L598.0,947.8 L601.3,948.0 L604.6,948.1 L607.8,948.2 L611.1,948.4 L614.4,948.5 L617.7,948.7 L621.0,948.8 L624.3,948.9 L627.6,949.1 L630.9,949.3 L634.2,949.4 L637.5,949.6 L640.8,949.7 L644.1,949.9 L647.4,950.1 L650.7,950.2 L654.0,950.4 L657.3,950.6 L660.6,950.8 L663.9,951.0 L667.2,951.2 L670.5,951.3 L673.8,951.5 L677.1,951.7 L680.4,951.9 L683.7,952.1 L687.0,952.4 L690.3,952.6 L693.6,952.8 L696.9,953.0 L700.2,953.2 L703.5,953.5 L706.7,953.7 L710.0,953.9 L713.3,954.2 L716.6,954.4 L719.9,954.7 L723.2,954.9 L726.5,955.2 L729.8,955.5 L733.1,955.7 L736.4,956.0 L739.7,956.3 L743.0,956.6 L746.3,956.9 L749.6,957.1 L752.9,957.4 L756.2,957.7 L759.5,958.1 L762.8,958.4 L766.1,958.7 L769.4,959.0 L772.7,959.3 L776.0,959.7 L779.3,960.0 L782.6,960.4 L785.9,960.7 L789.2,961.1 L792.5,961.4 L795.8,961.8 L799.1,962.2 L802.3,962.6 L805.6,963.0 L808.9,963.4 L812.2,963.8 L815.5,964.2 L818.8,964.6 L822.1,965.0 L825.4,965.5 L828.7,965.9 L832.0,966.3 L835.3,966.8 L838.6,967.2 L841.9,967.7 L845.2,968.2 L848.5,968.7 L851.8,969.1 L855.1,969.6 L858.4,970.1 L861.7,970.6 L865.0,971.2 L868.3,971.7 L871.6,972.2 L874.9,972.7 L878.2,973.3 L881.5,973.8 L884.8,974.4 L888.1,975.0 L891.4,975.6 L894.7,976.1 L897.9,976.7 L901.2,977.3 L904.5,977.9 L907.8,978.5 L911.1,979.2 L914.4,979.8 L917.7,980.4 L921.0,981.1 L924.3,981.7 L927.6,982.4 L930.9,983.1 L934.2,983.7 L937.5,984.4 L940.8,985.1 L944.1,985.8 L947.4,986.5 L950.7,987.2 L954.0,987.9 L957.3,988.6 L960.6,989.4 L963.9,990.1 L967.2,990.8 L970.5,991.6 L973.8,992.3 L977.1,993.1 L980.4,993.9 L983.7,994.6 L987.0,995.4 L990.3,996.2 L993.6,997.0 L996.8,997.8 L1000.1,998.5 L1003.4,999.3 L1006.7,1000.1 L1010.0,1001.0 L1013.3,1001.8 L1016.6,1002.6 L1019.9,1003.4 L1023.2,1004.2 L1026.5,1005.0 L1029.8,1005.8 L1033.1,1006.7 L1036.4,1007.5 L1039.7,1008.3 L1043.0,1009.1 L1046.3,1010.0 L1049.6,1010.8 L1052.9,1011.6 L1056.2,1012.4 L1059.5,1013.3 L1062.8,1014.1 L1066.1,1014.9 L1069.4,1015.7 L1072.7,1016.6 L1076.0,1017.4 L1079.3,1018.2 L1082.6,1019.0 L1085.9,1019.8 L1089.2,1020.6 L1092.4,1021.4 L1095.7,1022.2 L1099.0,1023.0 L1102.3,1023.8 L1105.6,1024.6 L1108.9,1025.4 L1112.2,1026.2 L1115.5,1027.0 L1118.8,1027.8 L1122.1,1028.5 L1125.4,1029.3 L1128.7,1030.0 L1132.0,1030.8 L1135.3,1031.5 L1138.6,1032.3 L1141.9,1033.0 L1145.2,1033.7 L1148.5,1034.5 L1151.8,1035.2 L1155.1,1035.9 L1158.4,1036.6 L1161.7,1037.3 L1165.0,1038.0 L1168.3,1038.6 L1171.6,1039.3 L1174.9,1040.0 L1178.2,1040.6 L1181.5,1041.3 L1184.8,1041.9 L1188.0,1042.6 L1191.3,1043.2 L1194.6,1043.8 L1197.9,1044.4 L1201.2,1045.0 L1204.5,1045.6 L1207.8,1046.2 L1211.1,1046.8 L1214.4,1047.4 L1217.7,1047.9 L1221.0,1048.5 L1224.3,1049.1 L1227.6,1049.6 L1230.9,1050.1 L1234.2,1050.7 L1237.5,1051.2 L1240.8,1051.7 L1244.1,1052.2 L1247.4,1052.7 L1250.7,1053.2 L1254.0,1053.7 L1257.3,1054.2 L1260.6,1054.6 L1263.9,1055.1 L1267.2,1055.5 L1270.5,1056.0 L1273.8,1056.4 L1277.1,1056.9 L1280.4,1057.3 L1283.7,1057.7 L1286.9,1058.1 L1290.2,1058.5 L1293.5,1059.0 L1296.8,1059.3 L1300.1,1059.7 L1303.4,1060.1 L1306.7,1060.5 L1310.0,1060.9 L1313.3,1061.2 L1316.6,1061.6 L1319.9,1061.9 L1323.2,1062.3 L1326.5,1062.6 L1329.8,1063.0 L1333.1,1063.3 L1336.4,1063.6 L1339.7,1063.9 L1343.0,1064.3 L1346.3,1064.6 L1349.6,1064.9 L1352.9,1065.2 L1356.2,1065.5 L1359.5,1065.7 L1362.8,1066.0 L1366.1,1066.3 L1369.4,1066.6 L1372.7,1066.8 L1376.0,1067.1 L1379.3,1067.4 L1382.5,1067.6 L1385.8,1067.9 L1389.1,1068.1 L1392.4,1068.4 L1395.7,1068.6 L1399.0,1068.8 L1402.3,1069.1 L1405.6,1069.3 L1408.9,1069.5 L1412.2,1069.7 L1415.5,1069.9 L1418.8,1070.1 L1422.1,1070.3 L1425.4,1070.5 L1428.7,1070.7 L1432.0,1070.9 L1435.3,1071.1 L1438.6,1071.3 L1441.9,1071.5 L1445.2,1071.7 L1448.5,1071.9 L1451.8,1072.0 L1455.1,1072.2 L1458.4,1072.4 L1461.7,1072.5 L1465.0,1072.7 L1468.3,1072.9 L1471.6,1073.0 L1474.9,1073.2 L1478.1,1073.3 L1481.4,1073.5 L1484.7,1073.6 L1488.0,1073.8 L1491.3,1073.9 L1494.6,1074.0 L1497.9,1074.2 L1501.2,1074.3 L1504.5,1074.4 L1507.8,1074.6 L1511.1,1074.7 L1514.4,1074.8 L1517.7,1074.9 L1521.0,1075.1 L1524.3,1075.2 L1527.6,1075.3 L1530.9,1075.4 L1534.2,1075.5 L1537.5,1075.6 L1540.8,1075.7 L1544.1,1075.8 L1547.4,1075.9 L1550.7,1076.0 L1554.0,1076.1 L1557.3,1076.2 L1560.6,1076.3 L1563.9,1076.4 L1567.2,1076.5 L1570.5,1076.6 L1573.8,1076.7 L1577.0,1076.8 L1580.3,1076.9 L1583.6,1077.0 L1586.9,1077.0 L1590.2,1077.1 L1593.5,1077.2 L1596.8,1077.3 L1600.1,1077.4 L1603.4,1077.4 L1606.7,1077.5 L1610.0,1077.6 L1613.3,1077.7 L1616.6,1077.7 L1619.9,1077.8 L1623.2,1077.9 L1626.5,1077.9 L1629.8,1078.0 L1633.1,1078.1 L1636.4,1078.1 L1639.7,1078.2 L1643.0,1078.2 L1646.3,1078.3 L1649.6,1078.4 L1652.9,1078.4 L1656.2,1078.5 L1659.5,1078.5 L1662.8,1078.6 L1666.1,1078.6 L1669.4,1078.7 L1672.6,1078.7 L1675.9,1078.8 L1679.2,1078.8 L1682.5,1078.9 L1685.8,1078.9 L1689.1,1079.0 L1692.4,1079.0 L1695.7,1079.1 L1699.0,1079.1 L1702.3,1079.2 L1705.6,1079.2 L1708.9,1079.2 L1712.2,1079.3 L1715.5,1079.3 L1718.8,1079.4 L1722.1,1079.4 L1725.4,1079.4 L1728.7,1079.5 L1732.0,1079.5 L1735.3,1079.6 L1738.6,1079.6 L1741.9,1079.6 L1745.2,1079.7 L1748.5,1079.7 L1751.8,1079.7 L1755.1,1079.8 L1758.4,1079.8 L1761.7,1079.8 L1765.0,1079.9 L1768.2,1079.9 L1771.5,1079.9 L1774.8,1079.9 L1778.1,1080.0 L1781.4,1080.0 L1784.7,1080.0 L1788.0,1080.1 L1791.3,1080.1 L1794.6,1080.1 L1797.9,1080.1 L1801.2,1080.2 L1804.5,1080.2 L1807.8,1080.2 L1811.1,1080.2 L1814.4,1080.3 L1817.7,1080.3 L1821.0,1080.3 L1824.3,1080.3 L1827.6,1080.3 L1830.9,1080.4 L1834.2,1080.4 L1837.5,1080.4 L1840.8,1080.4 L1844.1,1080.4 L1847.4,1080.5 L1850.7,1080.5 L1854.0,1080.5 L1857.3,1080.5 L1860.6,1080.5 L1863.9,1080.6 L1867.1,1080.6 L1870.4,1080.6 L1873.7,1080.6 L1877.0,1080.6 L1880.3,1080.6 L1883.6,1080.7 L1886.9,1080.7 L1890.2,1080.7 L1893.5,1080.7 L1896.8,1080.7 L1900.1,1080.7 L1903.4,1080.7 L1906.7,1080.8 L1910.0,1080.8 L1913.3,1080.8" fill="none" stroke="#0606f0" stroke-width="5.0" stroke-linejoin="round"/>
<path d="M268.3,941.2 L271.6,941.2 L274.9,941.2 L278.2,941.2 L281.5,941.2 L284.8,941.2 L288.1,941.2 L291.4,941.3 L294.7,941.3 L298.0,941.3 L301.3,941.3 L304.6,941.3 L307.9,941.3 L311.2,941.3 L314.5,941.3 L317.7,941.3 L321.0,941.4 L324.3,941.4 L327.6,941.4 L330.9,941.4 L334.2,941.4 L337.5,941.4 L340.8,941.4 L344.1,941.4 L347.4,941.4 L350.7,941.5 L354.0,941.5 L357.3,941.5 L360.6,941.5 L363.9,941.5 L367.2,941.5 L370.5,941.5 L373.8,941.6 L377.1,941.6 L380.4,941.6 L383.7,941.6 L387.0,941.6 L390.3,941.6 L393.6,941.7 L396.9,941.7 L400.2,941.7 L403.5,941.7 L406.8,941.7 L410.1,941.7 L413.4,941.8 L416.6,941.8 L419.9,941.8 L423.2,941.8 L426.5,941.8 L429.8,941.9 L433.1,941.9 L436.4,941.9 L439.7,941.9 L443.0,941.9 L446.3,942.0 L449.6,942.0 L452.9,942.0 L456.2,942.0 L459.5,942.1 L462.8,942.1 L466.1,942.1 L469.4,942.1 L472.7,942.2 L476.0,942.2 L479.3,942.2 L482.6,942.2 L485.9,942.3 L489.2,942.3 L492.5,942.3 L495.8,942.3 L499.1,942.4 L502.4,942.4 L505.7,942.4 L509.0,942.5 L512.2,942.5 L515.5,942.5 L518.8,942.6 L522.1,942.6 L525.4,942.6 L528.7,942.7 L532.0,942.7 L535.3,942.7 L538.6,942.8 L541.9,942.8 L545.2,942.9 L548.5,942.9 L551.8,942.9 L555.1,943.0 L558.4,943.0 L561.7,943.1 L565.0,943.1 L568.3,943.2 L571.6,943.2 L574.9,943.2 L578.2,943.3 L581.5,943.3 L584.8,943.4 L588.1,943.4 L591.4,943.5 L594.7,943.5 L598.0,943.6 L601.3,943.6 L604.6,943.7 L607.8,943.7 L611.1,943.8 L614.4,943.9 L617.7,943.9 L621.0,944.0 L624.3,944.0 L627.6,944.1 L630.9,944.2 L634.2,944.2 L637.5,944.3 L640.8,944.4 L644.1,944.4 L647.4,944.5 L650.7,944.6 L654.0,944.6 L657.3,944.7 L660.6,944.8 L663.9,944.9 L667.2,944.9 L670.5,945.0 L673.8,945.1 L677.1,945.2 L680.4,945.2 L683.7,945.3 L687.0,945.4 L690.3,945.5 L693.6,945.6 L696.9,945.7 L700.2,945.8 L703.5,945.9 L706.7,946.0 L710.0,946.1 L713.3,946.2 L716.6,946.3 L719.9,946.4 L723.2,946.5 L726.5,946.6 L729.8,946.7 L733.1,946.8 L736.4,946.9 L739.7,947.0 L743.0,947.1 L746.3,947.2 L749.6,947.4 L752.9,947.5 L756.2,947.6 L759.5,947.7 L762.8,947.9 L766.1,948.0 L769.4,948.1 L772.7,948.3 L776.0,948.4 L779.3,948.6 L782.6,948.7 L785.9,948.9 L789.2,949.0 L792.5,949.2 L795.8,949.3 L799.1,949.5 L802.3,949.6 L805.6,949.8 L808.9,950.0 L812.2,950.1 L815.5,950.3 L818.8,950.5 L822.1,950.7 L825.4,950.8 L828.7,951.0 L832.0,951.2 L835.3,951.4 L838.6,951.6 L841.9,951.8 L845.2,952.0 L848.5,952.2 L851.8,952.4 L855.1,952.7 L858.4,952.9 L861.7,953.1 L865.0,953.3 L868.3,953.6 L871.6,953.8 L874.9,954.0 L878.2,954.3 L881.5,954.5 L884.8,954.8 L888.1,955.0 L891.4,955.3 L894.7,955.6 L897.9,955.8 L901.2,956.1 L904.5,956.4 L907.8,956.7 L911.1,957.0 L914.4,957.2 L917.7,957.5 L921.0,957.9 L924.3,958.2 L927.6,958.5 L930.9,958.8 L934.2,959.1 L937.5,959.5 L940.8,959.8 L944.1,960.1 L947.4,960.5 L950.7,960.9 L954.0,961.2 L957.3,961.6 L960.6,962.0 L963.9,962.3 L967.2,962.7 L970.5,963.1 L973.8,963.5 L977.1,963.9 L980.4,964.3 L983.7,964.7 L987.0,965.2 L990.3,965.6 L993.6,966.0 L996.8,966.5 L1000.1,966.9 L1003.4,967.4 L1006.7,967.9 L1010.0,968.3 L1013.3,968.8 L1016.6,969.3 L1019.9,969.8 L1023.2,970.3 L1026.5,970.8 L1029.8,971.3 L1033.1,971.9 L1036.4,972.4 L1039.7,972.9 L1043.0,973.5 L1046.3,974.0 L1049.6,974.6 L1052.9,975.2 L1056.2,975.8 L1059.5,976.3 L1062.8,976.9 L1066.1,977.5 L1069.4,978.2 L1072.7,978.8 L1076.0,979.4 L1079.3,980.0 L1082.6,980.7 L1085.9,981.3 L1089.2,982.0 L1092.4,982.6 L1095.7,983.3 L1099.0,984.0 L1102.3,984.7 L1105.6,985.3 L1108.9,986.0 L1112.2,986.7 L1115.5,987.5 L1118.8,988.2 L1122.1,988.9 L1125.4,989.6 L1128.7,990.4 L1132.0,991.1 L1135.3,991.9 L1138.6,992.6 L1141.9,993.4 L1145.2,994.1 L1148.5,994.9 L1151.8,995.7 L1155.1,996.5 L1158.4,997.2 L1161.7,998.0 L1165.0,998.8 L1168.3,999.6 L1171.6,1000.4 L1174.9,1001.2 L1178.2,1002.0 L1181.5,1002.9 L1184.8,1003.7 L1188.0,1004.5 L1191.3,1005.3 L1194.6,1006.1 L1197.9,1007.0 L1201.2,1007.8 L1204.5,1008.6 L1207.8,1009.4 L1211.1,1010.3 L1214.4,1011.1 L1217.7,1011.9 L1221.0,1012.7 L1224.3,1013.6 L1227.6,1014.4 L1230.9,1015.2 L1234.2,1016.0 L1237.5,1016.9 L1240.8,1017.7 L1244.1,1018.5 L1247.4,1019.3 L1250.7,1020.1 L1254.0,1020.9 L1257.3,1021.7 L1260.6,1022.5 L1263.9,1023.3 L1267.2,1024.1 L1270.5,1024.9 L1273.8,1025.7 L1277.1,1026.5 L1280.4,1027.3 L1283.7,1028.0 L1286.9,1028.8 L1290.2,1029.6 L1293.5,1030.3 L1296.8,1031.1 L1300.1,1031.8 L1303.4,1032.5 L1306.7,1033.3 L1310.0,1034.0 L1313.3,1034.7 L1316.6,1035.4 L1319.9,1036.1 L1323.2,1036.8 L1326.5,1037.5 L1329.8,1038.2 L1333.1,1038.9 L1336.4,1039.6 L1339.7,1040.2 L1343.0,1040.9 L1346.3,1041.5 L1349.6,1042.2 L1352.9,1042.8 L1356.2,1043.4 L1359.5,1044.0 L1362.8,1044.6 L1366.1,1045.2 L1369.4,1045.8 L1372.7,1046.4 L1376.0,1047.0 L1379.3,1047.6 L1382.5,1048.1 L1385.8,1048.7 L1389.1,1049.2 L1392.4,1049.8 L1395.7,1050.3 L1399.0,1050.8 L1402.3,1051.4 L1405.6,1051.9 L1408.9,1052.4 L1412.2,1052.9 L1415.5,1053.4 L1418.8,1053.9 L1422.1,1054.3 L1425.4,1054.8 L1428.7,1055.3 L1432.0,1055.7 L1435.3,1056.2 L1438.6,1056.6 L1441.9,1057.0 L1445.2,1057.5 L1448.5,1057.9 L1451.8,1058.3 L1455.1,1058.7 L1458.4,1059.1 L1461.7,1059.5 L1465.0,1059.9 L1468.3,1060.3 L1471.6,1060.6 L1474.9,1061.0 L1478.1,1061.4 L1481.4,1061.7 L1484.7,1062.1 L1488.0,1062.4 L1491.3,1062.7 L1494.6,1063.1 L1497.9,1063.4 L1501.2,1063.7 L1504.5,1064.0 L1507.8,1064.4 L1511.1,1064.7 L1514.4,1065.0 L1517.7,1065.3 L1521.0,1065.6 L1524.3,1065.8 L1527.6,1066.1 L1530.9,1066.4 L1534.2,1066.7 L1537.5,1066.9 L1540.8,1067.2 L1544.1,1067.5 L1547.4,1067.7 L1550.7,1068.0 L1554.0,1068.2 L1557.3,1068.4 L1560.6,1068.7 L1563.9,1068.9 L1567.2,1069.1 L1570.5,1069.4 L1573.8,1069.6 L1577.0,1069.8 L1580.3,1070.0 L1583.6,1070.2 L1586.9,1070.4 L1590.2,1070.6 L1593.5,1070.8 L1596.8,1071.0 L1600.1,1071.2 L1603.4,1071.4 L1606.7,1071.6 L1610.0,1071.7 L1613.3,1071.9 L1616.6,1072.1 L1619.9,1072.3 L1623.2,1072.4 L1626.5,1072.6 L1629.8,1072.8 L1633.1,1072.9 L1636.4,1073.1 L1639.7,1073.2 L1643.0,1073.4 L1646.3,1073.5 L1649.6,1073.7 L1652.9,1073.8 L1656.2,1074.0 L1659.5,1074.1 L1662.8,1074.2 L1666.1,1074.4 L1669.4,1074.5 L1672.6,1074.6 L1675.9,1074.7 L1679.2,1074.9 L1682.5,1075.0 L1685.8,1075.1 L1689.1,1075.2 L1692.4,1075.3 L1695.7,1075.4 L1699.0,1075.6 L1702.3,1075.7 L1705.6,1075.8 L1708.9,1075.9 L1712.2,1076.0 L1715.5,1076.1 L1718.8,1076.2 L1722.1,1076.3 L1725.4,1076.4 L1728.7,1076.5 L1732.0,1076.6 L1735.3,1076.6 L1738.6,1076.7 L1741.9,1076.8 L1745.2,1076.9 L1748.5,1077.0 L1751.8,1077.1 L1755.1,1077.2 L1758.4,1077.2 L1761.7,1077.3 L1765.0,1077.4 L1768.2,1077.5 L1771.5,1077.5 L1774.8,1077.6 L1778.1,1077.7 L1781.4,1077.8 L1784.7,1077.8 L1788.0,1077.9 L1791.3,1078.0 L1794.6,1078.0 L1797.9,1078.1 L1801.2,1078.1 L1804.5,1078.2 L1807.8,1078.3 L1811.1,1078.3 L1814.4,1078.4 L1817.7,1078.4 L1821.0,1078.5 L1824.3,1078.6 L1827.6,1078.6 L1830.9,1078.7 L1834.2,1078.7 L1837.5,1078.8 L1840.8,1078.8 L1844.1,1078.9 L1847.4,1078.9 L1850.7,1079.0 L1854.0,1079.0 L1857.3,1079.0 L1860.6,1079.1 L1863.9,1079.1 L1867.1,1079.2 L1870.4,1079.2 L1873.7,1079.3 L1877.0,1079.3 L1880.3,1079.3 L1883.6,1079.4 L1886.9,1079.4 L1890.2,1079.5 L1893.5,1079.5 L1896.8,1079.5 L1900.1,1079.6 L1903.4,1079.6 L1906.7,1079.6 L1910.0,1079.7 L1913.3,1079.7" fill="none" stroke="#f0600e" stroke-width="5.0" stroke-linejoin="round"/>
<path d="M268.3,965.6 L272.3,965.0 L276.3,964.5 L280.3,963.9 L284.3,963.4 L288.3,962.9 L292.3,962.3 L296.3,961.8 L300.3,961.3 L304.3,960.8 L308.3,960.4 L312.3,959.9 L316.3,959.4 L320.3,959.0 L324.3,958.5 L328.3,958.1 L332.3,957.6 L336.3,957.2 L340.2,956.8 L344.2,956.4 L348.2,956.0 L352.2,955.6 L356.2,955.2 L360.2,954.8 L364.2,954.4 L368.2,954.1 L372.2,953.7 L376.2,953.4 L380.2,953.0 L384.2,952.7 L388.2,952.3 L392.2,952.0 L396.2,951.7 L400.2,951.4 L404.2,951.1 L408.2,950.7 L412.2,950.4 L416.2,950.2 L420.2,949.9 L424.2,949.6 L428.2,949.3 L432.2,949.0 L436.2,948.8 L440.2,948.5 L444.2,948.2 L448.2,948.0 L452.2,947.7 L456.2,947.5 L460.2,947.2 L464.2,947.0 L468.2,946.8 L472.2,946.5 L476.2,946.3 L480.2,946.1 L484.1,945.9 L488.1,945.6 L492.1,945.4 L496.1,945.2 L500.1,945.0 L504.1,944.8 L508.1,944.6 L512.1,944.4 L516.1,944.2 L520.1,944.0 L524.1,943.8 L528.1,943.6 L532.1,943.4 L536.1,943.2 L540.1,943.0 L544.1,942.8 L548.1,942.7 L552.1,942.5 L556.1,942.3 L560.1,942.1 L564.1,941.9 L568.1,941.7 L572.1,941.6 L576.1,941.4 L580.1,941.2 L584.1,941.0 L588.1,940.8 L592.1,940.7 L596.1,940.5 L600.1,940.3 L604.1,940.1 L608.1,939.9 L612.1,939.8 L616.1,939.6 L620.1,939.4 L624.0,939.2 L628.0,939.0 L632.0,938.8 L636.0,938.6 L640.0,938.5 L644.0,938.3 L648.0,938.1 L652.0,937.9 L656.0,937.7 L660.0,937.5 L664.0,937.3 L668.0,937.1 L672.0,936.9 L676.0,936.6 L680.0,936.4 L684.0,936.2 L688.0,936.0 L692.0,935.8 L696.0,935.6 L700.0,935.3 L704.0,935.1 L708.0,934.9 L712.0,934.6 L716.0,934.4 L720.0,934.1 L724.0,933.9 L728.0,933.6 L732.0,933.3 L736.0,933.1 L740.0,932.8 L744.0,932.5 L748.0,932.3 L752.0,932.0 L756.0,931.7 L760.0,931.4 L764.0,931.1 L767.9,930.8 L771.9,930.5 L775.9,930.1 L779.9,929.8 L783.9,929.5 L787.9,929.1 L791.9,928.8 L795.9,928.5 L799.9,928.1 L803.9,927.7 L807.9,927.4 L811.9,927.0 L815.9,926.6 L819.9,926.2 L823.9,925.8 L827.9,925.4 L831.9,925.0 L835.9,924.6 L839.9,924.1 L843.9,923.7 L847.9,923.3 L851.9,922.8 L855.9,922.4 L859.9,921.9 L863.9,921.4 L867.9,920.9 L871.9,920.4 L875.9,919.9 L879.9,919.4 L883.9,918.9 L887.9,918.3 L891.9,917.8 L895.9,917.3 L899.9,916.7 L903.9,916.1 L907.8,915.5 L911.8,914.9 L915.8,914.3 L919.8,913.7 L923.8,913.1 L927.8,912.5 L931.8,911.8 L935.8,911.2 L939.8,910.5 L943.8,909.8 L947.8,909.2 L951.8,908.5 L955.8,907.7 L959.8,907.0 L963.8,906.3 L967.8,905.6 L971.8,904.8 L975.8,904.0 L979.8,903.2 L983.8,902.5 L987.8,901.6 L991.8,900.8 L995.8,900.0 L999.8,899.2 L1003.8,898.3 L1007.8,897.4 L1011.8,896.5 L1015.8,895.6 L1019.8,894.7 L1023.8,893.8 L1027.8,892.9 L1031.8,891.9 L1035.8,891.0 L1039.8,890.0 L1043.8,889.0 L1047.7,888.0 L1051.7,887.0 L1055.7,885.9 L1059.7,884.9 L1063.7,883.8 L1067.7,882.7 L1071.7,881.6 L1075.7,880.5 L1079.7,879.4 L1083.7,878.3 L1087.7,877.1 L1091.7,875.9 L1095.7,874.7 L1099.7,873.5 L1103.7,872.3 L1107.7,871.1 L1111.7,869.8 L1115.7,868.5 L1119.7,867.3 L1123.7,866.0 L1127.7,864.6 L1131.7,863.3 L1135.7,862.0 L1139.7,860.6 L1143.7,859.2 L1147.7,857.8 L1151.7,856.4 L1155.7,854.9 L1159.7,853.5 L1163.7,852.0 L1167.7,850.5 L1171.7,849.0 L1175.7,847.5 L1179.7,845.9 L1183.7,844.3 L1187.7,842.8 L1191.6,841.1 L1195.6,839.5 L1199.6,837.9 L1203.6,836.2 L1207.6,834.5 L1211.6,832.8 L1215.6,831.1 L1219.6,829.4 L1223.6,827.6 L1227.6,825.8 L1231.6,824.0 L1235.6,822.2 L1239.6,820.4 L1243.6,818.5 L1247.6,816.6 L1251.6,814.7 L1255.6,812.8 L1259.6,810.9 L1287.5,1359.3 L1291.5,1357.6 L1295.5,1355.9 L1299.5,1354.3 L1303.5,1352.7 L1307.5,1351.1 L1311.5,1349.5 L1315.5,1347.9 L1319.5,1346.4 L1323.5,1344.9 L1327.5,1343.3 L1331.5,1341.8 L1335.5,1340.3 L1339.5,1338.9 L1343.5,1337.4 L1347.5,1336.0 L1351.4,1334.6 L1355.4,1333.2 L1359.4,1331.8 L1363.4,1330.4 L1367.4,1329.1 L1371.4,1327.8 L1375.4,1326.5 L1379.4,1325.2 L1383.4,1323.9 L1387.4,1322.7 L1391.4,1321.4 L1395.4,1320.2 L1399.4,1319.1 L1403.4,1317.9 L1407.4,1316.7 L1411.4,1315.6 L1415.4,1314.5 L1419.4,1313.4 L1423.4,1312.4 L1427.4,1311.3 L1431.4,1310.3 L1435.4,1309.3 L1439.4,1308.4 L1443.4,1307.4 L1447.4,1306.5 L1451.4,1305.6 L1455.4,1304.7 L1459.4,1303.9 L1463.4,1303.0 L1467.4,1302.2 L1471.4,1301.4 L1475.3,1300.7 L1479.3,1299.9 L1483.3,1299.2 L1487.3,1298.5 L1491.3,1297.9 L1495.3,1297.2 L1499.3,1296.6 L1503.3,1296.1 L1507.3,1295.5 L1511.3,1295.0 L1515.3,1294.4 L1519.3,1293.9 L1523.3,1293.5 L1527.3,1293.0 L1531.3,1292.6 L1535.3,1292.2 L1539.3,1291.9 L1543.3,1291.5 L1547.3,1291.2 L1551.3,1290.9 L1555.3,1290.6 L1559.3,1290.4 L1563.3,1290.2 L1567.3,1290.0 L1571.3,1289.8 L1575.3,1289.6 L1579.3,1289.5 L1583.3,1289.4 L1587.3,1289.3 L1591.3,1289.2 L1595.3,1289.2 L1599.2,1289.2 L1603.2,1289.2 L1607.2,1289.2 L1611.2,1289.2 L1615.2,1289.3 L1619.2,1289.4 L1623.2,1289.5 L1627.2,1289.7 L1631.2,1289.8 L1635.2,1290.0 L1639.2,1290.2 L1643.2,1290.4 L1647.2,1290.6 L1651.2,1290.9 L1655.2,1291.2 L1659.2,1291.5 L1663.2,1291.8 L1667.2,1292.1 L1671.2,1292.5 L1675.2,1292.8 L1679.2,1293.2 L1683.2,1293.6 L1687.2,1294.0 L1691.2,1294.5 L1695.2,1294.9 L1699.2,1295.4 L1703.2,1295.9 L1707.2,1296.3 L1711.2,1296.8 L1715.2,1297.4 L1719.2,1297.9 L1723.2,1298.4 L1727.1,1299.0 L1731.1,1299.5 L1735.1,1300.1 L1739.1,1300.7 L1743.1,1301.3 L1747.1,1301.9 L1751.1,1302.5 L1755.1,1303.1 L1759.1,1303.8 L1763.1,1304.4 L1767.1,1305.0 L1771.1,1305.7 L1775.1,1306.4 L1779.1,1307.0 L1783.1,1307.7 L1787.1,1308.4 L1791.1,1309.1 L1795.1,1309.8 L1799.1,1310.5 L1803.1,1311.2 L1807.1,1311.9 L1811.1,1312.6 L1815.1,1313.3 L1819.1,1314.0 L1823.1,1314.7 L1827.1,1315.4 L1831.1,1316.2 L1835.1,1316.9 L1839.1,1317.6 L1843.1,1318.3 L1847.1,1319.1 L1851.0,1319.8 L1855.0,1320.5 L1859.0,1321.2 L1863.0,1321.9 L1867.0,1322.7 L1871.0,1323.4 L1875.0,1324.1 L1879.0,1324.8 L1883.0,1325.5 L1887.0,1326.2 L1891.0,1326.9 L1895.0,1327.6 L1899.0,1328.3 L1903.0,1329.0 L1907.0,1329.6 L1911.0,1330.3" fill="none" stroke="#18a2e2" stroke-width="5.0" stroke-linejoin="round"/>
<path d="M268.3,963.7 L272.3,963.2 L276.3,962.7 L280.3,962.2 L284.3,961.7 L288.3,961.2 L292.3,960.7 L296.3,960.2 L300.3,959.8 L304.3,959.3 L308.3,958.8 L312.3,958.4 L316.3,957.9 L320.2,957.5 L324.2,957.1 L328.2,956.7 L332.2,956.3 L336.2,955.9 L340.2,955.5 L344.2,955.1 L348.2,954.7 L352.2,954.3 L356.2,953.9 L360.2,953.6 L364.2,953.2 L368.2,952.8 L372.2,952.5 L376.2,952.2 L380.2,951.8 L384.2,951.5 L388.2,951.1 L392.2,950.8 L396.2,950.5 L400.2,950.2 L404.2,949.9 L408.2,949.6 L412.2,949.3 L416.2,949.0 L420.2,948.7 L424.2,948.4 L428.1,948.1 L432.1,947.8 L436.1,947.5 L440.1,947.2 L444.1,947.0 L448.1,946.7 L452.1,946.4 L456.1,946.1 L460.1,945.9 L464.1,945.6 L468.1,945.4 L472.1,945.1 L476.1,944.8 L480.1,944.6 L484.1,944.3 L488.1,944.1 L492.1,943.8 L496.1,943.6 L500.1,943.3 L504.1,943.1 L508.1,942.8 L512.1,942.6 L516.1,942.3 L520.1,942.1 L524.1,941.8 L528.1,941.6 L532.0,941.3 L536.0,941.1 L540.0,940.8 L544.0,940.6 L548.0,940.3 L552.0,940.1 L556.0,939.8 L560.0,939.6 L564.0,939.3 L568.0,939.0 L572.0,938.8 L576.0,938.5 L580.0,938.3 L584.0,938.0 L588.0,937.7 L592.0,937.5 L596.0,937.2 L600.0,936.9 L604.0,936.6 L608.0,936.3 L612.0,936.1 L616.0,935.8 L620.0,935.5 L624.0,935.2 L628.0,934.9 L632.0,934.6 L635.9,934.3 L639.9,934.0 L643.9,933.7 L647.9,933.3 L651.9,933.0 L655.9,932.7 L659.9,932.3 L663.9,932.0 L667.9,931.7 L671.9,931.3 L675.9,931.0 L679.9,930.6 L683.9,930.2 L687.9,929.9 L691.9,929.5 L695.9,929.1 L699.9,928.7 L703.9,928.3 L707.9,927.9 L711.9,927.5 L715.9,927.1 L719.9,926.7 L723.9,926.2 L727.9,925.8 L731.9,925.4 L735.9,924.9 L739.8,924.5 L743.8,924.0 L747.8,923.5 L751.8,923.0 L755.8,922.5 L759.8,922.0 L763.8,921.5 L767.8,921.0 L771.8,920.5 L775.8,919.9 L779.8,919.4 L783.8,918.8 L787.8,918.3 L791.8,917.7 L795.8,917.1 L799.8,916.5 L803.8,915.9 L807.8,915.3 L811.8,914.7 L815.8,914.1 L819.8,913.4 L823.8,912.8 L827.8,912.1 L831.8,911.4 L835.8,910.7 L839.8,910.0 L843.7,909.3 L847.7,908.6 L851.7,907.9 L855.7,907.1 L859.7,906.4 L863.7,905.6 L867.7,904.8 L871.7,904.0 L875.7,903.2 L879.7,902.4 L883.7,901.6 L887.7,900.7 L891.7,899.9 L895.7,899.0 L899.7,898.1 L903.7,897.2 L907.7,896.3 L911.7,895.4 L915.7,894.5 L919.7,893.6 L923.7,892.6 L927.7,891.7 L931.7,890.7 L935.7,889.7 L939.7,888.7 L943.7,887.7 L947.6,886.7 L951.6,885.7 L955.6,884.6 L959.6,883.6 L963.6,882.5 L967.6,881.5 L971.6,880.4 L975.6,879.3 L979.6,878.2 L983.6,877.2 L987.6,876.0 L991.6,874.9 L995.6,873.8 L999.6,872.7 L1003.6,871.5 L1007.6,870.4 L1011.6,869.2 L1015.6,868.1 L1019.6,866.9 L1023.6,865.7 L1027.6,864.5 L1031.6,863.3 L1035.6,862.1 L1039.6,860.9 L1043.6,859.7 L1047.6,858.5 L1051.5,857.3 L1055.5,856.0 L1059.5,854.8 L1063.5,853.5 L1067.5,852.3 L1071.5,851.0 L1075.5,849.8 L1079.5,848.5 L1083.5,847.2 L1087.5,845.9 L1091.5,844.6 L1095.5,843.3 L1099.5,842.0 L1103.5,840.7 L1107.5,839.4 L1111.5,838.1 L1115.5,836.8 L1119.5,835.5 L1123.5,834.2 L1127.5,832.8 L1131.5,831.5 L1135.5,830.2 L1139.5,828.8 L1143.5,827.5 L1147.5,826.2 L1151.5,824.8 L1155.4,823.5 L1159.4,822.1 L1163.4,820.8 L1167.4,819.4 L1171.4,818.0 L1175.4,816.7 L1179.4,815.3 L1183.4,813.9 L1187.4,812.6 L1191.4,811.2 L1195.4,809.8 L1199.4,808.5 L1203.4,807.1 L1232.8,1354.3 L1236.8,1353.0 L1240.8,1351.6 L1244.8,1350.2 L1248.8,1348.9 L1252.7,1347.5 L1256.7,1346.2 L1260.7,1344.9 L1264.7,1343.5 L1268.7,1342.2 L1272.7,1340.9 L1276.7,1339.7 L1280.7,1338.4 L1284.7,1337.1 L1288.7,1335.9 L1292.6,1334.6 L1296.6,1333.4 L1300.6,1332.2 L1304.6,1331.0 L1308.6,1329.8 L1312.6,1328.6 L1316.6,1327.5 L1320.6,1326.3 L1324.6,1325.2 L1328.5,1324.0 L1332.5,1322.9 L1336.5,1321.8 L1340.5,1320.7 L1344.5,1319.6 L1348.5,1318.6 L1352.5,1317.5 L1356.5,1316.5 L1360.5,1315.5 L1364.5,1314.5 L1368.4,1313.5 L1372.4,1312.5 L1376.4,1311.5 L1380.4,1310.6 L1384.4,1309.6 L1388.4,1308.7 L1392.4,1307.8 L1396.4,1306.9 L1400.4,1306.0 L1404.3,1305.2 L1408.3,1304.3 L1412.3,1303.5 L1416.3,1302.7 L1420.3,1301.9 L1424.3,1301.1 L1428.3,1300.3 L1432.3,1299.6 L1436.3,1298.9 L1440.2,1298.1 L1444.2,1297.4 L1448.2,1296.8 L1452.2,1296.1 L1456.2,1295.5 L1460.2,1294.8 L1464.2,1294.2 L1468.2,1293.6 L1472.2,1293.0 L1476.2,1292.5 L1480.1,1291.9 L1484.1,1291.4 L1488.1,1290.9 L1492.1,1290.4 L1496.1,1290.0 L1500.1,1289.5 L1504.1,1289.1 L1508.1,1288.7 L1512.1,1288.3 L1516.0,1287.9 L1520.0,1287.6 L1524.0,1287.2 L1528.0,1286.9 L1532.0,1286.6 L1536.0,1286.4 L1540.0,1286.1 L1544.0,1285.9 L1548.0,1285.7 L1552.0,1285.5 L1555.9,1285.3 L1559.9,1285.2 L1563.9,1285.0 L1567.9,1284.9 L1571.9,1284.8 L1575.9,1284.8 L1579.9,1284.7 L1583.9,1284.7 L1587.9,1284.7 L1591.8,1284.8 L1595.8,1284.8 L1599.8,1284.9 L1603.8,1285.0 L1607.8,1285.1 L1611.8,1285.2 L1615.8,1285.4 L1619.8,1285.6 L1623.8,1285.8 L1627.8,1286.0 L1631.7,1286.3 L1635.7,1286.5 L1639.7,1286.8 L1643.7,1287.1 L1647.7,1287.5 L1651.7,1287.8 L1655.7,1288.2 L1659.7,1288.6 L1663.7,1289.0 L1667.6,1289.4 L1671.6,1289.9 L1675.6,1290.4 L1679.6,1290.8 L1683.6,1291.3 L1687.6,1291.8 L1691.6,1292.4 L1695.6,1292.9 L1699.6,1293.4 L1703.6,1294.0 L1707.5,1294.6 L1711.5,1295.2 L1715.5,1295.8 L1719.5,1296.4 L1723.5,1297.0 L1727.5,1297.7 L1731.5,1298.3 L1735.5,1299.0 L1739.5,1299.6 L1743.4,1300.3 L1747.4,1301.0 L1751.4,1301.7 L1755.4,1302.4 L1759.4,1303.1 L1763.4,1303.8 L1767.4,1304.5 L1771.4,1305.2 L1775.4,1305.9 L1779.3,1306.6 L1783.3,1307.4 L1787.3,1308.1 L1791.3,1308.9 L1795.3,1309.6 L1799.3,1310.3 L1803.3,1311.1 L1807.3,1311.8 L1811.3,1312.6 L1815.3,1313.3 L1819.2,1314.1 L1823.2,1314.8 L1827.2,1315.5 L1831.2,1316.3 L1835.2,1317.0 L1839.2,1317.7 L1843.2,1318.5 L1847.2,1319.2 L1851.2,1319.9 L1855.1,1320.6 L1859.1,1321.3 L1863.1,1322.1 L1867.1,1322.8 L1871.1,1323.4 L1875.1,1324.1 L1879.1,1324.8 L1883.1,1325.5 L1887.1,1326.1 L1891.1,1326.8 L1895.0,1327.4 L1899.0,1328.1 L1903.0,1328.7 L1907.0,1329.3 L1911.0,1329.9" fill="none" stroke="#0ca450" stroke-width="5.0" stroke-linejoin="round"/>
</g>
<g stroke="#f0122c" stroke-width="4.2" stroke-dasharray="33 16.9">
<line x1="1052.4" y1="343.5" x2="1052.4" y2="720" stroke-dashoffset="-1.7"/>
<line x1="1286.3" y1="267.8" x2="1286.3" y2="720"/>
</g>
<g stroke="#141414" stroke-width="3.6"><line x1="392.8" y1="71.6" x2="392.8" y2="81.6"/><line x1="392.8" y1="720.8" x2="392.8" y2="710.8"/><line x1="465.3" y1="71.6" x2="465.3" y2="81.6"/><line x1="465.3" y1="720.8" x2="465.3" y2="710.8"/><line x1="516.7" y1="71.6" x2="516.7" y2="81.6"/><line x1="516.7" y1="720.8" x2="516.7" y2="710.8"/><line x1="556.6" y1="71.6" x2="556.6" y2="81.6"/><line x1="556.6" y1="720.8" x2="556.6" y2="710.8"/><line x1="589.2" y1="71.6" x2="589.2" y2="81.6"/><line x1="589.2" y1="720.8" x2="589.2" y2="710.8"/><line x1="616.8" y1="71.6" x2="616.8" y2="81.6"/><line x1="616.8" y1="720.8" x2="616.8" y2="710.8"/><line x1="640.7" y1="71.6" x2="640.7" y2="81.6"/><line x1="640.7" y1="720.8" x2="640.7" y2="710.8"/><line x1="661.8" y1="71.6" x2="661.8" y2="81.6"/><line x1="661.8" y1="720.8" x2="661.8" y2="710.8"/><line x1="680.6" y1="71.6" x2="680.6" y2="90.6"/><line x1="680.6" y1="720.8" x2="680.6" y2="701.8"/><line x1="804.6" y1="71.6" x2="804.6" y2="81.6"/><line x1="804.6" y1="720.8" x2="804.6" y2="710.8"/><line x1="877.1" y1="71.6" x2="877.1" y2="81.6"/><line x1="877.1" y1="720.8" x2="877.1" y2="710.8"/><line x1="928.5" y1="71.6" x2="928.5" y2="81.6"/><line x1="928.5" y1="720.8" x2="928.5" y2="710.8"/><line x1="968.4" y1="71.6" x2="968.4" y2="81.6"/><line x1="968.4" y1="720.8" x2="968.4" y2="710.8"/><line x1="1001.0" y1="71.6" x2="1001.0" y2="81.6"/><line x1="1001.0" y1="720.8" x2="1001.0" y2="710.8"/><line x1="1028.6" y1="71.6" x2="1028.6" y2="81.6"/><line x1="1028.6" y1="720.8" x2="1028.6" y2="710.8"/><line x1="1052.5" y1="71.6" x2="1052.5" y2="81.6"/><line x1="1052.5" y1="720.8" x2="1052.5" y2="710.8"/><line x1="1073.6" y1="71.6" x2="1073.6" y2="81.6"/><line x1="1073.6" y1="720.8" x2="1073.6" y2="710.8"/><line x1="1092.4" y1="71.6" x2="1092.4" y2="90.6"/><line x1="1092.4" y1="720.8" x2="1092.4" y2="701.8"/><line x1="1216.4" y1="71.6" x2="1216.4" y2="81.6"/><line x1="1216.4" y1="720.8" x2="1216.4" y2="710.8"/><line x1="1288.9" y1="71.6" x2="1288.9" y2="81.6"/><line x1="1288.9" y1="720.8" x2="1288.9" y2="710.8"/><line x1="1340.3" y1="71.6" x2="1340.3" y2="81.6"/><line x1="1340.3" y1="720.8" x2="1340.3" y2="710.8"/><line x1="1380.2" y1="71.6" x2="1380.2" y2="81.6"/><line x1="1380.2" y1="720.8" x2="1380.2" y2="710.8"/><line x1="1412.8" y1="71.6" x2="1412.8" y2="81.6"/><line x1="1412.8" y1="720.8" x2="1412.8" y2="710.8"/><line x1="1440.4" y1="71.6" x2="1440.4" y2="81.6"/><line x1="1440.4" y1="720.8" x2="1440.4" y2="710.8"/><line x1="1464.3" y1="71.6" x2="1464.3" y2="81.6"/><line x1="1464.3" y1="720.8" x2="1464.3" y2="710.8"/><line x1="1485.4" y1="71.6" x2="1485.4" y2="81.6"/><line x1="1485.4" y1="720.8" x2="1485.4" y2="710.8"/><line x1="1504.2" y1="71.6" x2="1504.2" y2="90.6"/><line x1="1504.2" y1="720.8" x2="1504.2" y2="701.8"/><line x1="1628.2" y1="71.6" x2="1628.2" y2="81.6"/><line x1="1628.2" y1="720.8" x2="1628.2" y2="710.8"/><line x1="1700.7" y1="71.6" x2="1700.7" y2="81.6"/><line x1="1700.7" y1="720.8" x2="1700.7" y2="710.8"/><line x1="1752.1" y1="71.6" x2="1752.1" y2="81.6"/><line x1="1752.1" y1="720.8" x2="1752.1" y2="710.8"/><line x1="1792.0" y1="71.6" x2="1792.0" y2="81.6"/><line x1="1792.0" y1="720.8" x2="1792.0" y2="710.8"/><line x1="1824.6" y1="71.6" x2="1824.6" y2="81.6"/><line x1="1824.6" y1="720.8" x2="1824.6" y2="710.8"/><line x1="1852.2" y1="71.6" x2="1852.2" y2="81.6"/><line x1="1852.2" y1="720.8" x2="1852.2" y2="710.8"/><line x1="1876.1" y1="71.6" x2="1876.1" y2="81.6"/><line x1="1876.1" y1="720.8" x2="1876.1" y2="710.8"/><line x1="1897.2" y1="71.6" x2="1897.2" y2="81.6"/><line x1="1897.2" y1="720.8" x2="1897.2" y2="710.8"/><line x1="268.8" y1="152.7" x2="286.8" y2="152.7"/><line x1="1916.0" y1="152.7" x2="1898.0" y2="152.7"/><line x1="268.8" y1="233.9" x2="286.8" y2="233.9"/><line x1="1916.0" y1="233.9" x2="1898.0" y2="233.9"/><line x1="268.8" y1="315.0" x2="286.8" y2="315.0"/><line x1="1916.0" y1="315.0" x2="1898.0" y2="315.0"/><line x1="268.8" y1="396.2" x2="286.8" y2="396.2"/><line x1="1916.0" y1="396.2" x2="1898.0" y2="396.2"/><line x1="268.8" y1="477.4" x2="286.8" y2="477.4"/><line x1="1916.0" y1="477.4" x2="1898.0" y2="477.4"/><line x1="268.8" y1="558.5" x2="286.8" y2="558.5"/><line x1="1916.0" y1="558.5" x2="1898.0" y2="558.5"/><line x1="268.8" y1="639.6" x2="286.8" y2="639.6"/><line x1="1916.0" y1="639.6" x2="1898.0" y2="639.6"/></g>
<g stroke="#141414" stroke-width="3.6"><line x1="392.1" y1="795.0" x2="392.1" y2="805.0"/><line x1="392.1" y1="1368.5" x2="392.1" y2="1358.5"/><line x1="464.5" y1="795.0" x2="464.5" y2="805.0"/><line x1="464.5" y1="1368.5" x2="464.5" y2="1358.5"/><line x1="515.9" y1="795.0" x2="515.9" y2="805.0"/><line x1="515.9" y1="1368.5" x2="515.9" y2="1358.5"/><line x1="555.8" y1="795.0" x2="555.8" y2="805.0"/><line x1="555.8" y1="1368.5" x2="555.8" y2="1358.5"/><line x1="588.3" y1="795.0" x2="588.3" y2="805.0"/><line x1="588.3" y1="1368.5" x2="588.3" y2="1358.5"/><line x1="615.8" y1="795.0" x2="615.8" y2="805.0"/><line x1="615.8" y1="1368.5" x2="615.8" y2="1358.5"/><line x1="639.7" y1="795.0" x2="639.7" y2="805.0"/><line x1="639.7" y1="1368.5" x2="639.7" y2="1358.5"/><line x1="660.7" y1="795.0" x2="660.7" y2="805.0"/><line x1="660.7" y1="1368.5" x2="660.7" y2="1358.5"/><line x1="679.5" y1="795.0" x2="679.5" y2="814.0"/><line x1="679.5" y1="1368.5" x2="679.5" y2="1349.5"/><line x1="803.3" y1="795.0" x2="803.3" y2="805.0"/><line x1="803.3" y1="1368.5" x2="803.3" y2="1358.5"/><line x1="875.8" y1="795.0" x2="875.8" y2="805.0"/><line x1="875.8" y1="1368.5" x2="875.8" y2="1358.5"/><line x1="927.1" y1="795.0" x2="927.1" y2="805.0"/><line x1="927.1" y1="1368.5" x2="927.1" y2="1358.5"/><line x1="967.0" y1="795.0" x2="967.0" y2="805.0"/><line x1="967.0" y1="1368.5" x2="967.0" y2="1358.5"/><line x1="999.6" y1="795.0" x2="999.6" y2="805.0"/><line x1="999.6" y1="1368.5" x2="999.6" y2="1358.5"/><line x1="1027.1" y1="795.0" x2="1027.1" y2="805.0"/><line x1="1027.1" y1="1368.5" x2="1027.1" y2="1358.5"/><line x1="1050.9" y1="795.0" x2="1050.9" y2="805.0"/><line x1="1050.9" y1="1368.5" x2="1050.9" y2="1358.5"/><line x1="1072.0" y1="795.0" x2="1072.0" y2="805.0"/><line x1="1072.0" y1="1368.5" x2="1072.0" y2="1358.5"/><line x1="1090.8" y1="795.0" x2="1090.8" y2="814.0"/><line x1="1090.8" y1="1368.5" x2="1090.8" y2="1349.5"/><line x1="1214.6" y1="795.0" x2="1214.6" y2="805.0"/><line x1="1214.6" y1="1368.5" x2="1214.6" y2="1358.5"/><line x1="1287.0" y1="795.0" x2="1287.0" y2="805.0"/><line x1="1287.0" y1="1368.5" x2="1287.0" y2="1358.5"/><line x1="1338.4" y1="795.0" x2="1338.4" y2="805.0"/><line x1="1338.4" y1="1368.5" x2="1338.4" y2="1358.5"/><line x1="1378.3" y1="795.0" x2="1378.3" y2="805.0"/><line x1="1378.3" y1="1368.5" x2="1378.3" y2="1358.5"/><line x1="1410.8" y1="795.0" x2="1410.8" y2="805.0"/><line x1="1410.8" y1="1368.5" x2="1410.8" y2="1358.5"/><line x1="1438.3" y1="795.0" x2="1438.3" y2="805.0"/><line x1="1438.3" y1="1368.5" x2="1438.3" y2="1358.5"/><line x1="1462.2" y1="795.0" x2="1462.2" y2="805.0"/><line x1="1462.2" y1="1368.5" x2="1462.2" y2="1358.5"/><line x1="1483.2" y1="795.0" x2="1483.2" y2="805.0"/><line x1="1483.2" y1="1368.5" x2="1483.2" y2="1358.5"/><line x1="1502.0" y1="795.0" x2="1502.0" y2="814.0"/><line x1="1502.0" y1="1368.5" x2="1502.0" y2="1349.5"/><line x1="1625.8" y1="795.0" x2="1625.8" y2="805.0"/><line x1="1625.8" y1="1368.5" x2="1625.8" y2="1358.5"/><line x1="1698.3" y1="795.0" x2="1698.3" y2="805.0"/><line x1="1698.3" y1="1368.5" x2="1698.3" y2="1358.5"/><line x1="1749.6" y1="795.0" x2="1749.6" y2="805.0"/><line x1="1749.6" y1="1368.5" x2="1749.6" y2="1358.5"/><line x1="1789.5" y1="795.0" x2="1789.5" y2="805.0"/><line x1="1789.5" y1="1368.5" x2="1789.5" y2="1358.5"/><line x1="1822.1" y1="795.0" x2="1822.1" y2="805.0"/><line x1="1822.1" y1="1368.5" x2="1822.1" y2="1358.5"/><line x1="1849.6" y1="795.0" x2="1849.6" y2="805.0"/><line x1="1849.6" y1="1368.5" x2="1849.6" y2="1358.5"/><line x1="1873.4" y1="795.0" x2="1873.4" y2="805.0"/><line x1="1873.4" y1="1368.5" x2="1873.4" y2="1358.5"/><line x1="1894.5" y1="795.0" x2="1894.5" y2="805.0"/><line x1="1894.5" y1="1368.5" x2="1894.5" y2="1358.5"/><line x1="268.3" y1="800.0" x2="286.3" y2="800.0" stroke-width="4.8"/><line x1="1913.3" y1="800.0" x2="1895.3" y2="800.0"/><line x1="1913.3" y1="940.7" x2="1895.3" y2="940.7"/><line x1="1913.3" y1="1081.5" x2="1895.3" y2="1081.5"/><line x1="1913.3" y1="1222.3" x2="1895.3" y2="1222.3"/><line x1="268.3" y1="1363.0" x2="286.3" y2="1363.0" stroke-width="4.8"/><line x1="1913.3" y1="1363.0" x2="1895.3" y2="1363.0"/></g><g stroke="#666" stroke-width="2.4"><line x1="268.3" y1="940.7" x2="285.3" y2="940.7"/><line x1="268.3" y1="1081.5" x2="285.3" y2="1081.5"/><line x1="268.3" y1="1222.3" x2="285.3" y2="1222.3"/></g>
<rect x="268.8" y="71.6" width="1647.2" height="649.2" fill="none" stroke="#141414" stroke-width="4.2"/>
<rect x="268.3" y="795.0" width="1645.0" height="573.5" fill="none" stroke="#141414" stroke-width="4.2"/>
<rect x="1388.0" y="550.6" width="528.0" height="170.2" fill="#fff" stroke="#141414" stroke-width="3.8"/>
<line x1="1410" y1="589.3" x2="1461" y2="589.3" stroke="#18a2e2" stroke-width="5.0"/>
<line x1="1410" y1="674.8" x2="1461" y2="674.8" stroke="#0ca450" stroke-width="5.0"/>
<line x1="1028.1" y1="201.9" x2="1102.4" y2="269.8" stroke="#d8481e" stroke-width="3.0"/><path d="M1121.5,287.8 L1111.0,257.0 L1102.4,269.8 L1088.5,277.6 Z" fill="#d8481e" stroke="#d8481e" stroke-width="1" stroke-linejoin="round"/>
<line x1="1565.5" y1="408.0" x2="1507.8" y2="358.5" stroke="#1414e8" stroke-width="3.8"/><path d="M1483.4,339.1 L1521.6,350.6 L1507.8,358.5 L1500.6,371.6 Z" fill="#1414e8" stroke="#1414e8" stroke-width="1" stroke-linejoin="round"/>
<line x1="1363.3" y1="515.0" x2="1311.6" y2="666.8" stroke="#f08424" stroke-width="3.0"/><path d="M1301.7,690.6 L1298.0,659.9 L1311.6,666.8 L1328.0,667.1 Z" fill="#f08424" stroke="#f08424" stroke-width="1" stroke-linejoin="round"/>
<line x1="951.0" y1="625.6" x2="1015.2" y2="684.7" stroke="#1414e8" stroke-width="3.8"/><path d="M1035.5,703.3 L1024.9,672.4 L1015.2,684.7 L1000.0,692.0 Z" fill="#1414e8" stroke="#1414e8" stroke-width="1" stroke-linejoin="round"/>
<text x="185.0" y="91.9" fill="#000" style="font-family:'Liberation Serif','Times New Roman',serif;font-size:68.0px">40</text>
<text x="185.0" y="173.5" fill="#000" style="font-family:'Liberation Serif','Times New Roman',serif;font-size:68.0px">30</text>
<text x="185.0" y="254.3" fill="#000" style="font-family:'Liberation Serif','Times New Roman',serif;font-size:68.0px">20</text>
<text x="185.0" y="334.7" fill="#000" style="font-family:'Liberation Serif','Times New Roman',serif;font-size:68.0px">10</text>
<text fill="#000" style="font-family:'Liberation Serif','Times New Roman',serif;font-size:68.0px"><tspan x="200.8" y="418.2">0</tspan></text>
<text x="185.2" y="499.1" fill="#000" style="font-family:'Liberation Serif','Times New Roman',serif;font-size:68.0px">10</text>
<text x="185.2" y="578.5" fill="#000" style="font-family:'Liberation Serif','Times New Roman',serif;font-size:68.0px">20</text>
<text x="185.2" y="659.2" fill="#000" style="font-family:'Liberation Serif','Times New Roman',serif;font-size:68.0px">30</text>
<text x="185.2" y="738.2" fill="#000" style="font-family:'Liberation Serif','Times New Roman',serif;font-size:68.0px">40</text>
<rect x="139.2" y="481.8" width="34.9" height="6.6" fill="#000"/>
<rect x="139.2" y="561.1" width="34.9" height="6.6" fill="#000"/>
<rect x="139.2" y="640.9" width="34.9" height="6.6" fill="#000"/>
<rect x="139.2" y="720.9" width="34.9" height="6.6" fill="#000"/>
<text x="150.4" y="821.0" fill="#000" style="font-family:'Liberation Serif','Times New Roman',serif;font-size:68.0px">180</text>
<text x="184.4" y="963.0" fill="#000" style="font-family:'Liberation Serif','Times New Roman',serif;font-size:68.0px">90</text>
<text x="218.4" y="1106.5" fill="#000" style="font-family:'Liberation Serif','Times New Roman',serif;font-size:68.0px">0</text>
<text x="184.4" y="1248.6" fill="#000" style="font-family:'Liberation Serif','Times New Roman',serif;font-size:68.0px">90</text>
<text x="150.4" y="1390.6" fill="#000" style="font-family:'Liberation Serif','Times New Roman',serif;font-size:68.0px">180</text>
<rect x="139.0" y="1228.9" width="35.0" height="6.6" fill="#000"/>
<rect x="109.4" y="1367.8" width="34.6" height="6.6" fill="#000"/>
<text fill="#000" style="font-family:'Liberation Serif','Times New Roman',serif;font-size:66.7px"><tspan x="232.4" y="1459.6">1</tspan><tspan x="264.7" y="1459.6">0</tspan></text>
<text fill="#000" style="font-family:'Liberation Serif','Times New Roman',serif;font-size:54.0px"><tspan x="301.3" y="1427.2">0</tspan></text>
<text fill="#000" style="font-family:'Liberation Serif','Times New Roman',serif;font-size:66.7px"><tspan x="642.4" y="1459.6">1</tspan><tspan x="674.7" y="1459.6">0</tspan></text>
<text fill="#000" style="font-family:'Liberation Serif','Times New Roman',serif;font-size:54.0px"><tspan x="717.8" y="1427.2">1</tspan></text>
<text fill="#000" style="font-family:'Liberation Serif','Times New Roman',serif;font-size:66.7px"><tspan x="1048.3" y="1459.6">1</tspan><tspan x="1081.5" y="1459.6">0</tspan></text>
<text fill="#000" style="font-family:'Liberation Serif','Times New Roman',serif;font-size:54.0px"><tspan x="1116.0" y="1427.2">2</tspan></text>
<text fill="#000" style="font-family:'Liberation Serif','Times New Roman',serif;font-size:66.7px"><tspan x="1458.6" y="1459.6">1</tspan><tspan x="1491.5" y="1459.6">0</tspan></text>
<text fill="#000" style="font-family:'Liberation Serif','Times New Roman',serif;font-size:54.0px"><tspan x="1527.6" y="1427.2">3</tspan></text>
<text fill="#000" style="font-family:'Liberation Serif','Times New Roman',serif;font-size:66.7px"><tspan x="1863.0" y="1459.6">1</tspan><tspan x="1895.9" y="1459.6">0</tspan></text>
<text fill="#000" style="font-family:'Liberation Serif','Times New Roman',serif;font-size:54.0px"><tspan x="1933.5" y="1427.2">4</tspan></text>
<text transform="translate(897.72,1544.90) scale(0.9738,1)" fill="#000" style="font-family:'Liberation Serif','Times New Roman',serif;font-size:67.0px">Frequency/Hz</text>
<text transform="translate(89.90,714.88) rotate(-90) scale(1.0065,1)" fill="#000" style="font-family:'Liberation Serif','Times New Roman',serif;font-size:64.7px">Magnitude</text>
<text transform="translate(89.90,398.40) rotate(-90) scale(1.0252,1)" fill="#000" style="font-family:'Liberation Serif','Times New Roman',serif;font-size:64.7px">/(dB)</text>
<text transform="translate(81.70,1239.08) rotate(-90) scale(0.9993,1)" fill="#000" style="font-family:'Liberation Serif','Times New Roman',serif;font-size:65.3px">Phase</text>
<text transform="translate(81.70,1051.20) rotate(-90) scale(1.0144,1)" fill="#000" style="font-family:'Liberation Serif','Times New Roman',serif;font-size:65.3px">/(°)</text>
<text fill="#c0542c" style="font-family:'Liberation Serif','Times New Roman',serif;font-size:50.4px"><tspan x="768.2" y="193.7" style="font-style:italic;">R</tspan><tspan x="797.2" y="193.7">(</tspan><tspan x="814.6" y="193.7" style="font-style:italic;">s</tspan><tspan x="837.9" y="193.7">)</tspan><tspan x="884.6" y="193.7" style="font-style:italic;">K</tspan><tspan x="915.6" y="193.7" style="font-style:italic;">r</tspan><tspan x="973.4" y="193.7" style="font-style:italic;">7</tspan><tspan x="1001.5" y="193.7" style="font-style:italic;">.</tspan><tspan x="1012.8" y="193.7" style="font-style:italic;">5</tspan></text>
<text fill="#1c1ce4" style="font-family:'Liberation Serif','Times New Roman',serif;font-size:52.6px"><tspan x="1602.2" y="442.8" style="font-style:italic;">R</tspan><tspan x="1631.1" y="442.8">(</tspan><tspan x="1649.1" y="442.8" style="font-style:italic;">s</tspan><tspan x="1670.6" y="442.8">)</tspan><tspan x="1717.6" y="442.8" style="font-style:italic;">K</tspan><tspan x="1749.4" y="442.8" style="font-style:italic;">r</tspan><tspan x="1806.8" y="442.8">3</tspan></text>
<text transform="translate(1351.2,480.3) skewX(-20)" fill="#ee8632" style="font-family:'Liberation Serif',serif;font-size:49.5px;font-style:italic">f</text>
<text fill="#ee8632" style="font-family:'Liberation Serif','Times New Roman',serif;font-size:50.0px"><tspan x="1369.3" y="502.6" style="font-size:35.0px;">3</tspan><tspan x="1442.4" y="491.8">2</tspan><tspan x="1470.1" y="491.8">0</tspan><tspan x="1496.9" y="491.8">0</tspan><tspan x="1522.9" y="491.8">H</tspan><tspan x="1562.2" y="491.8">z</tspan></text>
<text transform="translate(790.6,609.5) skewX(-20)" fill="#1c1ce4" style="font-family:'Liberation Serif',serif;font-size:49.8px;font-style:italic">f</text>
<text fill="#1c1ce4" style="font-family:'Liberation Serif','Times New Roman',serif;font-size:51.3px"><tspan x="806.9" y="630.8" style="font-size:35.0px;">3</tspan><tspan x="865.2" y="616.0">8</tspan><tspan x="892.0" y="616.0">0</tspan><tspan x="918.6" y="616.0">H</tspan><tspan x="956.6" y="616.0">z</tspan></text>
<rect x="944.6" y="172.9" width="26.2" height="2.7" fill="#c0542c"/><rect x="944.6" y="178.1" width="26.2" height="2.7" fill="#c0542c"/>
<rect x="1779.0" y="419.5" width="27.3" height="3.0" fill="#1c1ce4"/><rect x="1779.0" y="426.6" width="27.3" height="3.0" fill="#1c1ce4"/>
<rect x="1413.0" y="470.7" width="25.8" height="2.7" fill="#ee8632"/><rect x="1413.0" y="477.1" width="25.8" height="2.7" fill="#ee8632"/>
<rect x="834.3" y="594.6" width="27.1" height="2.7" fill="#1c1ce4"/><rect x="834.3" y="600.4" width="27.1" height="2.7" fill="#1c1ce4"/>
<text fill="#000" style="font-family:'Liberation Serif','Times New Roman',serif;font-size:50.6px"><tspan x="1487.2" y="605.2" style="font-style:italic;">Q</tspan><tspan x="1530.3" y="605.2">(</tspan><tspan x="1548.5" y="605.2" style="font-style:italic;">s</tspan><tspan x="1569.1" y="605.2">)</tspan><tspan x="1590.6" y="605.2">(</tspan><tspan x="1614.7" y="605.2" style="font-style:italic;">P</tspan><tspan x="1630.5" y="613.8" style="font-style:italic;font-size:31.5px;">d</tspan><tspan x="1648.2" y="613.8" style="font-style:italic;font-size:31.5px;">c</tspan><tspan x="1670.0" y="605.2">=</tspan><tspan x="1704.3" y="605.2">1</tspan><tspan x="1727.8" y="605.2">0</tspan><tspan x="1755.7" y="605.2">5</tspan><tspan x="1782.0" y="605.2">0</tspan><tspan x="1809.4" y="605.2">k</tspan><tspan x="1837.5" y="605.2">W</tspan><tspan x="1887.0" y="605.2">)</tspan></text>
<text fill="#000" style="font-family:'Liberation Serif','Times New Roman',serif;font-size:50.6px"><tspan x="1487.2" y="690.6" style="font-style:italic;">Q</tspan><tspan x="1530.3" y="690.6">(</tspan><tspan x="1548.5" y="690.6" style="font-style:italic;">s</tspan><tspan x="1569.1" y="690.6">)</tspan><tspan x="1590.6" y="690.6">(</tspan><tspan x="1614.7" y="690.6" style="font-style:italic;">P</tspan><tspan x="1630.5" y="699.2" style="font-style:italic;font-size:31.5px;">d</tspan><tspan x="1648.2" y="699.2" style="font-style:italic;font-size:31.5px;">c</tspan><tspan x="1670.0" y="690.6">=</tspan><tspan x="1704.3" y="690.6">1</tspan><tspan x="1726.8" y="690.6">5</tspan><tspan x="1756.7" y="690.6">0</tspan><tspan x="1782.0" y="690.6">0</tspan><tspan x="1809.4" y="690.6">k</tspan><tspan x="1837.5" y="690.6">W</tspan><tspan x="1887.0" y="690.6">)</tspan></text>
</g>
</svg></body></html>
